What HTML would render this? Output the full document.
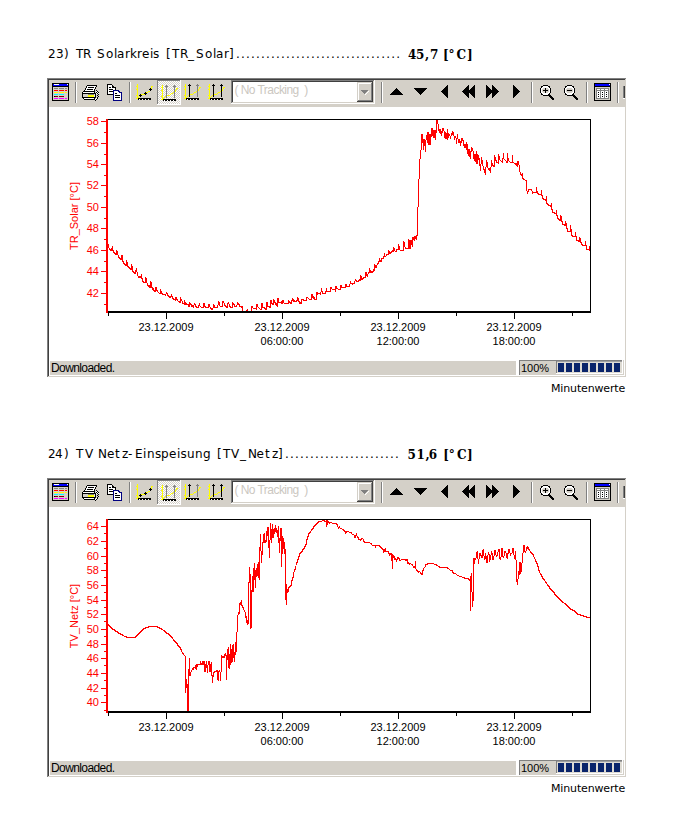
<!DOCTYPE html>
<html><head><meta charset="utf-8"><title>Minutenwerte</title><style>
*{margin:0;padding:0;box-sizing:content-box}
html,body{width:685px;height:835px;background:#fff;overflow:hidden;position:relative}
.blk{position:absolute;left:0;width:685px;height:400px}
.tg{position:absolute;top:47px;font:12px "DejaVu Sans","Liberation Sans",sans-serif;white-space:pre;color:#000;line-height:14px}
.vg{position:absolute;top:47.5px;font:bold 12px "DejaVu Serif","Liberation Serif",serif;white-space:pre;color:#000;line-height:14px}
.dots{position:absolute;top:47px;font:12px "DejaVu Sans","Liberation Sans",sans-serif;letter-spacing:1.19px;white-space:pre;line-height:14px}
.frame{position:absolute;left:49px;top:80px;width:576px;height:296px;}
.fl{position:absolute;left:47px;top:78px}
.tbwrap{position:absolute;left:0;top:0;width:577px;height:27px;background:#d4d0c8}
.tb{position:absolute;left:0;top:0}
.cbt{position:absolute;left:185.5px;top:2.5px;font:12px "Liberation Sans",sans-serif;letter-spacing:-0.55px;color:#cbc7bf;line-height:14px;white-space:nowrap}
.plot{position:absolute;left:0;top:27px;width:576px;height:253px;background:#fff;overflow:hidden}
.ch{position:absolute;left:-49px;top:-7px}
.yl span{position:absolute;left:20px;font:11px "Liberation Sans",sans-serif;color:#f00;line-height:14px;width:30px;text-align:right}
.yt{position:absolute;font:11px "Liberation Sans",sans-serif;color:#f00;white-space:nowrap;line-height:12px;width:100px;text-align:center;left:-25px;top:103px;transform:rotate(-90deg)}
.xl{position:absolute;top:213px;width:80px;text-align:center;font:11px "Liberation Sans",sans-serif;color:#000;line-height:14px}
.sb{position:absolute;left:0;top:280px}
.sb1{position:absolute;left:1px;top:281px;width:466px;height:14px;font:12px "Liberation Sans",sans-serif;letter-spacing:-0.6px;line-height:14px;text-indent:1px;color:#000}
.sb2{position:absolute;left:470px;top:281px;width:36px;height:14px;font:11px "Liberation Sans",sans-serif;line-height:14px;text-indent:2px}
.sb3{position:absolute;left:507px;top:280px;width:66px;height:13px;border-style:solid;border-width:1px 1px 1px 1px;border-color:#808080 #fff #fff #808080;background:#d4d0c8;}
.sb3 i{float:left;width:6px;height:9px;background:#0a246a;margin:2px 2px 0 0}
.sb3 i:first-child{margin-left:1px}
.mw{position:absolute;left:551px;top:382px;font:11px "DejaVu Sans","Liberation Sans",sans-serif;line-height:14px;letter-spacing:-0.15px}
</style></head>
<body>

<div class="blk" style="top:0px">
  <div class="tg" style="left:48px"><span style="margin-right:0.36px">2</span><span style="margin-right:0.36px">3</span><span style="margin-right:3.48px">)</span> <span style="margin-right:-0.34px">T</span><span style="margin-right:1.83px">R</span> <span style="margin-right:1.38px">S</span><span style="margin-right:0.66px">o</span><span style="margin-right:-0.34px">l</span><span style="margin-right:0.64px">a</span><span style="margin-right:0.06px">r</span><span style="margin-right:0.05px">k</span><span style="margin-right:0.06px">r</span><span style="margin-right:0.61px">e</span><span style="margin-right:-0.34px">i</span><span style="margin-right:2.91px">s</span> <span style="margin-right:1.31px">[</span><span style="margin-right:0.66px">T</span><span style="margin-right:-0.34px">R</span><span style="margin-right:2.00px">_</span><span style="margin-right:1.38px">S</span><span style="margin-right:0.66px">o</span><span style="margin-right:-0.34px">l</span><span style="margin-right:0.64px">a</span><span style="margin-right:0.06px">r</span>]</div><div class="dots" style="left:236px">................................. </div><div class="vg" style="left:408px"><span style="margin-right:-0.36px">4</span><span style="margin-right:0.64px">5</span><span style="margin-right:0.81px">,</span><span style="margin-right:0.45px">7</span> <span style="margin-right:-0.19px">[</span><span style="margin-right:2.00px">°</span><span style="margin-right:0.94px">C</span>]</div>
  <svg class="fl" width="580" height="300" viewBox="0 0 580 300" shape-rendering="crispEdges"><rect x="0" y="0" width="579" height="1" fill="#808080"/><rect x="0" y="0" width="1" height="299" fill="#808080"/><rect x="579" y="0" width="1" height="300" fill="#fff"/><rect x="0" y="299" width="580" height="1" fill="#fff"/><rect x="1" y="1" width="577" height="1" fill="#404040"/><rect x="1" y="1" width="1" height="297" fill="#404040"/><rect x="578" y="1" width="1" height="298" fill="#d4d0c8"/><rect x="1" y="298" width="578" height="1" fill="#d4d0c8"/></svg>
  <div class="frame">
    <div class="tbwrap"><svg class="tb" width="577" height="27" viewBox="0 0 577 27" shape-rendering="crispEdges"><defs><pattern id="chk1" width="2" height="2" patternUnits="userSpaceOnUse"><rect width="2" height="2" fill="#d4d0c8"/><rect width="1" height="1" fill="#fff"/><rect x="1" y="1" width="1" height="1" fill="#fff"/></pattern></defs><rect x="26" y="2" width="1" height="21" fill="#808080"/><rect x="27" y="2" width="1" height="21" fill="#fff"/><rect x="80" y="2" width="1" height="21" fill="#808080"/><rect x="81" y="2" width="1" height="21" fill="#fff"/><rect x="332" y="2" width="1" height="21" fill="#808080"/><rect x="333" y="2" width="1" height="21" fill="#fff"/><rect x="482" y="2" width="1" height="21" fill="#808080"/><rect x="483" y="2" width="1" height="21" fill="#fff"/><rect x="537" y="2" width="1" height="21" fill="#808080"/><rect x="538" y="2" width="1" height="21" fill="#fff"/><rect x="568" y="2" width="1" height="21" fill="#808080"/><rect x="569" y="2" width="1" height="21" fill="#fff"/><rect x="3" y="3" width="17" height="18" fill="#000"/><rect x="4" y="4" width="15" height="2" fill="#0000ff"/><rect x="5" y="4" width="5" height="1" fill="#fff"/><rect x="18" y="4" width="1" height="1" fill="#fff"/><rect x="4" y="7" width="15" height="13" fill="#d4d0c8"/><rect x="5" y="8" width="4" height="1" fill="#808080"/><rect x="10" y="8" width="5" height="1" fill="#808080"/><rect x="16" y="8" width="2" height="1" fill="#808080"/><rect x="5" y="10" width="4" height="1" fill="#ff0000"/><rect x="10" y="10" width="5" height="1" fill="#ff0000"/><rect x="16" y="10" width="2" height="1" fill="#ff0000"/><rect x="5" y="12" width="4" height="1" fill="#ffff00"/><rect x="10" y="12" width="5" height="1" fill="#ffff00"/><rect x="16" y="12" width="2" height="1" fill="#ffff00"/><rect x="5" y="14" width="4" height="1" fill="#00ffff"/><rect x="10" y="14" width="5" height="1" fill="#00ffff"/><rect x="5" y="16" width="4" height="1" fill="#800000"/><rect x="10" y="16" width="5" height="1" fill="#800000"/><rect x="5" y="18" width="4" height="1" fill="#ff00ff"/><rect x="10" y="18" width="5" height="1" fill="#ff00ff"/><rect x="16" y="18" width="2" height="1" fill="#ff00ff"/><rect x="5" y="16" width="1" height="1" fill="#000"/><rect x="38" y="6" width="9" height="1" fill="#fff"/><rect x="37" y="7" width="9" height="1" fill="#fff"/><rect x="37" y="8" width="9" height="1" fill="#fff"/><rect x="36" y="9" width="9" height="1" fill="#fff"/><rect x="36" y="10" width="9" height="1" fill="#fff"/><rect x="38" y="5" width="10" height="1" fill="#000"/><rect x="37" y="6" width="1" height="2" fill="#000"/><rect x="47" y="6" width="1" height="1" fill="#000"/><rect x="46" y="7" width="1" height="2" fill="#000"/><rect x="36" y="8" width="1" height="2" fill="#000"/><rect x="35" y="10" width="1" height="1" fill="#000"/><rect x="45" y="9" width="1" height="2" fill="#000"/><rect x="39" y="7" width="6" height="1" fill="#000"/><rect x="38" y="9" width="6" height="1" fill="#000"/><rect x="34" y="11" width="12" height="1" fill="#000"/><rect x="33" y="12" width="1" height="5" fill="#000"/><rect x="34" y="12" width="11" height="1" fill="#fff"/><rect x="45" y="12" width="1" height="1" fill="#000"/><rect x="33" y="13" width="14" height="1" fill="#000"/><rect x="34" y="14" width="5" height="3" fill="#d4d0c8"/><rect x="39" y="14" width="6" height="1" fill="#808080"/><rect x="39" y="15" width="6" height="2" fill="#ffff00"/><rect x="45" y="14" width="1" height="3" fill="#e8e6e0"/><rect x="46" y="14" width="1" height="3" fill="#000"/><rect x="33" y="17" width="14" height="1" fill="#000"/><rect x="34" y="18" width="1" height="1" fill="#000"/><rect x="35" y="18" width="10" height="1" fill="#fff"/><rect x="45" y="18" width="1" height="1" fill="#000"/><rect x="35" y="19" width="11" height="1" fill="#000"/><rect x="47" y="10" width="1" height="1" fill="#000"/><rect x="48" y="11" width="1" height="1" fill="#000"/><rect x="47" y="11" width="1" height="1" fill="#fff"/><rect x="47" y="12" width="1" height="1" fill="#000"/><rect x="48" y="12" width="1" height="1" fill="#fff"/><rect x="49" y="12" width="1" height="1" fill="#000"/><rect x="48" y="13" width="1" height="1" fill="#000"/><rect x="47" y="13" width="1" height="1" fill="#fff"/><rect x="49" y="14" width="1" height="1" fill="#000"/><rect x="48" y="15" width="1" height="1" fill="#000"/><rect x="49" y="16" width="1" height="1" fill="#000"/><rect x="48" y="17" width="1" height="1" fill="#000"/><rect x="47" y="18" width="1" height="1" fill="#fff"/><rect x="48" y="18" width="1" height="1" fill="#000"/><rect x="47" y="19" width="1" height="1" fill="#000"/><rect x="46" y="20" width="1" height="1" fill="#000"/><rect x="46" y="19" width="1" height="1" fill="#fff"/><rect x="49" y="13" width="1" height="1" fill="#fff"/><rect x="59" y="5" width="4" height="9" fill="#fff"/><rect x="63" y="6" width="2" height="8" fill="#fff"/><rect x="65" y="8" width="1" height="6" fill="#fff"/><rect x="58" y="4" width="5" height="1" fill="#000"/><rect x="58" y="4" width="1" height="11" fill="#000"/><rect x="58" y="14" width="6" height="1" fill="#000"/><rect x="63" y="5" width="1" height="1" fill="#000"/><rect x="64" y="6" width="1" height="1" fill="#000"/><rect x="65" y="7" width="1" height="1" fill="#000"/><rect x="66" y="7" width="1" height="3" fill="#000"/><rect x="63" y="6" width="1" height="2" fill="#000"/><rect x="64" y="7" width="1" height="1" fill="#000"/><rect x="60" y="7" width="2" height="1" fill="#000"/><rect x="60" y="9" width="4" height="1" fill="#000"/><rect x="60" y="11" width="4" height="1" fill="#000"/><rect x="65" y="11" width="6" height="9" fill="#fff"/><rect x="70" y="12" width="2" height="8" fill="#fff"/><rect x="64" y="10" width="6" height="1" fill="#000080"/><rect x="64" y="10" width="1" height="11" fill="#000080"/><rect x="64" y="20" width="9" height="1" fill="#000080"/><rect x="72" y="12" width="1" height="9" fill="#000080"/><rect x="70" y="11" width="1" height="1" fill="#000080"/><rect x="71" y="12" width="1" height="1" fill="#000080"/><rect x="70" y="12" width="1" height="1" fill="#000080"/><rect x="69" y="10" width="1" height="2" fill="#000080"/><rect x="66" y="13" width="2" height="1" fill="#000"/><rect x="66" y="15" width="5" height="1" fill="#000"/><rect x="66" y="17" width="5" height="1" fill="#000"/><rect x="88" y="4" width="1" height="15" fill="#ffff00"/><rect x="87" y="6" width="1" height="1" fill="#ffff00"/><rect x="87" y="9" width="1" height="1" fill="#ffff00"/><rect x="87" y="15" width="1" height="1" fill="#ffff00"/><rect x="87" y="18" width="1" height="1" fill="#ffff00"/><rect x="89" y="18" width="13" height="1" fill="#000"/><rect x="89" y="19" width="1" height="1" fill="#000"/><rect x="90" y="19" width="1" height="1" fill="#fff"/><rect x="91" y="19" width="1" height="1" fill="#000"/><rect x="92" y="19" width="1" height="1" fill="#000"/><rect x="93" y="19" width="1" height="1" fill="#fff"/><rect x="94" y="19" width="1" height="1" fill="#000"/><rect x="95" y="19" width="1" height="1" fill="#000"/><rect x="96" y="19" width="1" height="1" fill="#fff"/><rect x="97" y="19" width="1" height="1" fill="#000"/><rect x="98" y="19" width="1" height="1" fill="#000"/><rect x="99" y="19" width="1" height="1" fill="#fff"/><rect x="100" y="19" width="1" height="1" fill="#000"/><rect x="101" y="19" width="1" height="1" fill="#000"/><rect x="89" y="17" width="1" height="1" fill="#ffff00"/><rect x="90" y="16" width="1" height="1" fill="#ffff00"/><rect x="92" y="14" width="1" height="1" fill="#ffff00"/><rect x="93" y="14" width="1" height="1" fill="#ffff00"/><rect x="94" y="14" width="1" height="1" fill="#ffff00"/><rect x="95" y="14" width="1" height="1" fill="#ffff00"/><rect x="97" y="12" width="1" height="1" fill="#ffff00"/><rect x="98" y="12" width="1" height="1" fill="#ffff00"/><rect x="99" y="11" width="1" height="1" fill="#ffff00"/><rect x="100" y="11" width="1" height="1" fill="#ffff00"/><rect x="102" y="8" width="1" height="1" fill="#ffff00"/><rect x="102" y="7" width="1" height="1" fill="#ffff00"/><rect x="102" y="6" width="1" height="1" fill="#ffff00"/><rect x="103" y="6" width="1" height="1" fill="#ffff00"/><rect x="91" y="14" width="1" height="1" fill="#000"/><rect x="90" y="15" width="1" height="1" fill="#000"/><rect x="91" y="15" width="1" height="1" fill="#000"/><rect x="92" y="15" width="1" height="1" fill="#000"/><rect x="91" y="16" width="1" height="1" fill="#000"/><rect x="96" y="12" width="1" height="1" fill="#000"/><rect x="95" y="13" width="1" height="1" fill="#000"/><rect x="96" y="13" width="1" height="1" fill="#000"/><rect x="97" y="13" width="1" height="1" fill="#000"/><rect x="96" y="14" width="1" height="1" fill="#000"/><rect x="101" y="8" width="1" height="1" fill="#000"/><rect x="100" y="9" width="1" height="1" fill="#000"/><rect x="101" y="9" width="1" height="1" fill="#000"/><rect x="102" y="9" width="1" height="1" fill="#000"/><rect x="101" y="10" width="1" height="1" fill="#000"/><rect x="108" y="0" width="23" height="1" fill="#808080"/><rect x="108" y="0" width="1" height="24" fill="#808080"/><rect x="108" y="24" width="24" height="1" fill="#fff"/><rect x="131" y="0" width="1" height="25" fill="#fff"/><rect x="109" y="1" width="22" height="23" fill="url(#chk1)"/><rect x="113" y="5" width="1" height="15" fill="#ffff00"/><rect x="112" y="7" width="1" height="1" fill="#ffff00"/><rect x="112" y="10" width="1" height="1" fill="#ffff00"/><rect x="112" y="16" width="1" height="1" fill="#ffff00"/><rect x="112" y="19" width="1" height="1" fill="#ffff00"/><rect x="114" y="19" width="13" height="1" fill="#000"/><rect x="114" y="20" width="1" height="1" fill="#000"/><rect x="115" y="20" width="1" height="1" fill="#fff"/><rect x="116" y="20" width="1" height="1" fill="#000"/><rect x="117" y="20" width="1" height="1" fill="#000"/><rect x="118" y="20" width="1" height="1" fill="#fff"/><rect x="119" y="20" width="1" height="1" fill="#000"/><rect x="120" y="20" width="1" height="1" fill="#000"/><rect x="121" y="20" width="1" height="1" fill="#fff"/><rect x="122" y="20" width="1" height="1" fill="#000"/><rect x="123" y="20" width="1" height="1" fill="#000"/><rect x="124" y="20" width="1" height="1" fill="#fff"/><rect x="125" y="20" width="1" height="1" fill="#000"/><rect x="126" y="20" width="1" height="1" fill="#000"/><rect x="117" y="5" width="1" height="1" fill="#808080"/><rect x="116" y="6" width="3" height="1" fill="#808080"/><rect x="117" y="7" width="1" height="11" fill="#808080"/><rect x="125" y="5" width="1" height="1" fill="#808080"/><rect x="124" y="6" width="3" height="1" fill="#808080"/><rect x="125" y="7" width="1" height="11" fill="#808080"/><rect x="114" y="18" width="1" height="1" fill="#ffff00"/><rect x="115" y="17" width="1" height="1" fill="#ffff00"/><rect x="116" y="16" width="1" height="1" fill="#ffff00"/><rect x="118" y="15" width="1" height="1" fill="#ffff00"/><rect x="119" y="15" width="1" height="1" fill="#ffff00"/><rect x="120" y="15" width="1" height="1" fill="#ffff00"/><rect x="121" y="14" width="1" height="1" fill="#ffff00"/><rect x="122" y="13" width="1" height="1" fill="#ffff00"/><rect x="123" y="13" width="1" height="1" fill="#ffff00"/><rect x="124" y="12" width="1" height="1" fill="#ffff00"/><rect x="126" y="11" width="1" height="1" fill="#ffff00"/><rect x="126" y="10" width="1" height="1" fill="#ffff00"/><rect x="127" y="9" width="1" height="1" fill="#ffff00"/><rect x="127" y="8" width="1" height="1" fill="#ffff00"/><rect x="128" y="8" width="1" height="1" fill="#ffff00"/><rect x="136" y="4" width="1" height="15" fill="#ffff00"/><rect x="135" y="6" width="1" height="1" fill="#ffff00"/><rect x="135" y="9" width="1" height="1" fill="#ffff00"/><rect x="135" y="15" width="1" height="1" fill="#ffff00"/><rect x="135" y="18" width="1" height="1" fill="#ffff00"/><rect x="137" y="18" width="13" height="1" fill="#000"/><rect x="137" y="19" width="1" height="1" fill="#000"/><rect x="138" y="19" width="1" height="1" fill="#fff"/><rect x="139" y="19" width="1" height="1" fill="#000"/><rect x="140" y="19" width="1" height="1" fill="#000"/><rect x="141" y="19" width="1" height="1" fill="#fff"/><rect x="142" y="19" width="1" height="1" fill="#000"/><rect x="143" y="19" width="1" height="1" fill="#000"/><rect x="144" y="19" width="1" height="1" fill="#fff"/><rect x="145" y="19" width="1" height="1" fill="#000"/><rect x="146" y="19" width="1" height="1" fill="#000"/><rect x="147" y="19" width="1" height="1" fill="#fff"/><rect x="148" y="19" width="1" height="1" fill="#000"/><rect x="149" y="19" width="1" height="1" fill="#000"/><rect x="140" y="4" width="1" height="1" fill="#000"/><rect x="139" y="5" width="3" height="1" fill="#000"/><rect x="140" y="6" width="1" height="11" fill="#000"/><rect x="148" y="4" width="1" height="1" fill="#808080"/><rect x="147" y="5" width="3" height="1" fill="#808080"/><rect x="148" y="6" width="1" height="11" fill="#808080"/><rect x="137" y="17" width="1" height="1" fill="#ffff00"/><rect x="138" y="16" width="1" height="1" fill="#ffff00"/><rect x="139" y="15" width="1" height="1" fill="#ffff00"/><rect x="141" y="14" width="1" height="1" fill="#ffff00"/><rect x="142" y="14" width="1" height="1" fill="#ffff00"/><rect x="143" y="14" width="1" height="1" fill="#ffff00"/><rect x="144" y="13" width="1" height="1" fill="#ffff00"/><rect x="145" y="12" width="1" height="1" fill="#ffff00"/><rect x="146" y="12" width="1" height="1" fill="#ffff00"/><rect x="147" y="11" width="1" height="1" fill="#ffff00"/><rect x="149" y="10" width="1" height="1" fill="#ffff00"/><rect x="149" y="9" width="1" height="1" fill="#ffff00"/><rect x="150" y="8" width="1" height="1" fill="#ffff00"/><rect x="150" y="7" width="1" height="1" fill="#ffff00"/><rect x="151" y="7" width="1" height="1" fill="#ffff00"/><rect x="160" y="4" width="1" height="15" fill="#ffff00"/><rect x="159" y="6" width="1" height="1" fill="#ffff00"/><rect x="159" y="9" width="1" height="1" fill="#ffff00"/><rect x="159" y="15" width="1" height="1" fill="#ffff00"/><rect x="159" y="18" width="1" height="1" fill="#ffff00"/><rect x="161" y="18" width="13" height="1" fill="#000"/><rect x="161" y="19" width="1" height="1" fill="#000"/><rect x="162" y="19" width="1" height="1" fill="#fff"/><rect x="163" y="19" width="1" height="1" fill="#000"/><rect x="164" y="19" width="1" height="1" fill="#000"/><rect x="165" y="19" width="1" height="1" fill="#fff"/><rect x="166" y="19" width="1" height="1" fill="#000"/><rect x="167" y="19" width="1" height="1" fill="#000"/><rect x="168" y="19" width="1" height="1" fill="#fff"/><rect x="169" y="19" width="1" height="1" fill="#000"/><rect x="170" y="19" width="1" height="1" fill="#000"/><rect x="171" y="19" width="1" height="1" fill="#fff"/><rect x="172" y="19" width="1" height="1" fill="#000"/><rect x="173" y="19" width="1" height="1" fill="#000"/><rect x="164" y="4" width="1" height="1" fill="#000"/><rect x="163" y="5" width="3" height="1" fill="#000"/><rect x="164" y="6" width="1" height="11" fill="#000"/><rect x="172" y="4" width="1" height="1" fill="#000"/><rect x="171" y="5" width="3" height="1" fill="#000"/><rect x="172" y="6" width="1" height="11" fill="#000"/><rect x="161" y="17" width="1" height="1" fill="#ffff00"/><rect x="162" y="16" width="1" height="1" fill="#ffff00"/><rect x="163" y="15" width="1" height="1" fill="#ffff00"/><rect x="165" y="14" width="1" height="1" fill="#ffff00"/><rect x="166" y="14" width="1" height="1" fill="#ffff00"/><rect x="167" y="14" width="1" height="1" fill="#ffff00"/><rect x="168" y="13" width="1" height="1" fill="#ffff00"/><rect x="169" y="12" width="1" height="1" fill="#ffff00"/><rect x="170" y="12" width="1" height="1" fill="#ffff00"/><rect x="171" y="11" width="1" height="1" fill="#ffff00"/><rect x="173" y="10" width="1" height="1" fill="#ffff00"/><rect x="173" y="9" width="1" height="1" fill="#ffff00"/><rect x="174" y="8" width="1" height="1" fill="#ffff00"/><rect x="174" y="7" width="1" height="1" fill="#ffff00"/><rect x="175" y="7" width="1" height="1" fill="#ffff00"/><rect x="182" y="0" width="143" height="1" fill="#808080"/><rect x="182" y="0" width="1" height="24" fill="#808080"/><rect x="183" y="1" width="141" height="1" fill="#404040"/><rect x="183" y="1" width="1" height="22" fill="#404040"/><rect x="182" y="23" width="144" height="1" fill="#fff"/><rect x="325" y="0" width="1" height="24" fill="#fff"/><rect x="183" y="22" width="142" height="1" fill="#d4d0c8"/><rect x="324" y="1" width="1" height="22" fill="#d4d0c8"/><rect x="184" y="2" width="140" height="20" fill="#fff"/><rect x="308" y="2" width="16" height="20" fill="#d4d0c8"/><rect x="308" y="2" width="15" height="1" fill="#d4d0c8"/><rect x="309" y="3" width="13" height="1" fill="#fff"/><rect x="309" y="3" width="1" height="17" fill="#fff"/><rect x="323" y="2" width="1" height="20" fill="#404040"/><rect x="308" y="21" width="16" height="1" fill="#404040"/><rect x="322" y="3" width="1" height="18" fill="#808080"/><rect x="309" y="20" width="14" height="1" fill="#808080"/><rect x="312" y="10" width="7" height="1" fill="#808080"/><rect x="313" y="11" width="5" height="1" fill="#808080"/><rect x="314" y="12" width="3" height="1" fill="#808080"/><rect x="315" y="13" width="1" height="1" fill="#808080"/><rect x="316" y="14" width="1" height="1" fill="#fff"/><rect x="317" y="13" width="1" height="1" fill="#fff"/><rect x="318" y="12" width="1" height="1" fill="#fff"/><rect x="319" y="11" width="1" height="1" fill="#fff"/><rect x="347" y="8" width="1" height="1" fill="#000"/><rect x="346" y="9" width="3" height="1" fill="#000"/><rect x="345" y="10" width="5" height="1" fill="#000"/><rect x="344" y="11" width="7" height="1" fill="#000"/><rect x="343" y="12" width="9" height="1" fill="#000"/><rect x="342" y="13" width="11" height="1" fill="#000"/><rect x="341" y="14" width="13" height="1" fill="#000"/><rect x="365" y="8" width="13" height="1" fill="#000"/><rect x="366" y="9" width="11" height="1" fill="#000"/><rect x="367" y="10" width="9" height="1" fill="#000"/><rect x="368" y="11" width="7" height="1" fill="#000"/><rect x="369" y="12" width="5" height="1" fill="#000"/><rect x="370" y="13" width="3" height="1" fill="#000"/><rect x="371" y="14" width="1" height="1" fill="#000"/><rect x="392" y="11" width="1" height="1" fill="#000"/><rect x="393" y="10" width="1" height="3" fill="#000"/><rect x="394" y="9" width="1" height="5" fill="#000"/><rect x="395" y="8" width="1" height="7" fill="#000"/><rect x="396" y="7" width="1" height="9" fill="#000"/><rect x="397" y="6" width="1" height="11" fill="#000"/><rect x="398" y="5" width="1" height="13" fill="#000"/><rect x="413" y="11" width="1" height="1" fill="#000"/><rect x="414" y="10" width="1" height="3" fill="#000"/><rect x="415" y="9" width="1" height="5" fill="#000"/><rect x="416" y="8" width="1" height="7" fill="#000"/><rect x="417" y="7" width="1" height="9" fill="#000"/><rect x="418" y="6" width="1" height="11" fill="#000"/><rect x="419" y="5" width="1" height="13" fill="#000"/><rect x="419" y="11" width="1" height="1" fill="#000"/><rect x="420" y="10" width="1" height="3" fill="#000"/><rect x="421" y="9" width="1" height="5" fill="#000"/><rect x="422" y="8" width="1" height="7" fill="#000"/><rect x="423" y="7" width="1" height="9" fill="#000"/><rect x="424" y="6" width="1" height="11" fill="#000"/><rect x="425" y="5" width="1" height="13" fill="#000"/><rect x="443" y="11" width="1" height="1" fill="#000"/><rect x="442" y="10" width="1" height="3" fill="#000"/><rect x="441" y="9" width="1" height="5" fill="#000"/><rect x="440" y="8" width="1" height="7" fill="#000"/><rect x="439" y="7" width="1" height="9" fill="#000"/><rect x="438" y="6" width="1" height="11" fill="#000"/><rect x="437" y="5" width="1" height="13" fill="#000"/><rect x="449" y="11" width="1" height="1" fill="#000"/><rect x="448" y="10" width="1" height="3" fill="#000"/><rect x="447" y="9" width="1" height="5" fill="#000"/><rect x="446" y="8" width="1" height="7" fill="#000"/><rect x="445" y="7" width="1" height="9" fill="#000"/><rect x="444" y="6" width="1" height="11" fill="#000"/><rect x="443" y="5" width="1" height="13" fill="#000"/><rect x="470" y="11" width="1" height="1" fill="#000"/><rect x="469" y="10" width="1" height="3" fill="#000"/><rect x="468" y="9" width="1" height="5" fill="#000"/><rect x="467" y="8" width="1" height="7" fill="#000"/><rect x="466" y="7" width="1" height="9" fill="#000"/><rect x="465" y="6" width="1" height="11" fill="#000"/><rect x="464" y="5" width="1" height="13" fill="#000"/><rect x="492" y="6" width="9" height="9" fill="#fff"/><rect x="491" y="8" width="11" height="5" fill="#fff"/><rect x="494" y="8" width="5" height="5" fill="#d4d0c8"/><rect x="493" y="9" width="7" height="3" fill="#d4d0c8"/><rect x="494" y="5" width="5" height="1" fill="#000"/><rect x="492" y="6" width="2" height="1" fill="#000"/><rect x="499" y="6" width="2" height="1" fill="#000"/><rect x="494" y="15" width="5" height="1" fill="#000"/><rect x="492" y="14" width="2" height="1" fill="#000"/><rect x="499" y="14" width="2" height="1" fill="#000"/><rect x="492" y="7" width="1" height="1" fill="#000"/><rect x="500" y="7" width="1" height="1" fill="#000"/><rect x="492" y="13" width="1" height="1" fill="#000"/><rect x="500" y="13" width="1" height="1" fill="#000"/><rect x="491" y="8" width="1" height="5" fill="#000"/><rect x="501" y="8" width="1" height="5" fill="#000"/><rect x="494" y="10" width="5" height="1" fill="#000"/><rect x="496" y="8" width="1" height="5" fill="#000"/><rect x="499" y="15" width="3" height="1" fill="#000"/><rect x="500" y="16" width="3" height="1" fill="#000"/><rect x="501" y="17" width="3" height="1" fill="#000"/><rect x="502" y="18" width="3" height="1" fill="#000"/><rect x="503" y="19" width="2" height="1" fill="#000"/><rect x="500" y="14" width="1" height="1" fill="#000"/><rect x="516" y="6" width="9" height="9" fill="#fff"/><rect x="515" y="8" width="11" height="5" fill="#fff"/><rect x="518" y="8" width="5" height="5" fill="#d4d0c8"/><rect x="517" y="9" width="7" height="3" fill="#d4d0c8"/><rect x="518" y="5" width="5" height="1" fill="#000"/><rect x="516" y="6" width="2" height="1" fill="#000"/><rect x="523" y="6" width="2" height="1" fill="#000"/><rect x="518" y="15" width="5" height="1" fill="#000"/><rect x="516" y="14" width="2" height="1" fill="#000"/><rect x="523" y="14" width="2" height="1" fill="#000"/><rect x="516" y="7" width="1" height="1" fill="#000"/><rect x="524" y="7" width="1" height="1" fill="#000"/><rect x="516" y="13" width="1" height="1" fill="#000"/><rect x="524" y="13" width="1" height="1" fill="#000"/><rect x="515" y="8" width="1" height="5" fill="#000"/><rect x="525" y="8" width="1" height="5" fill="#000"/><rect x="518" y="10" width="5" height="1" fill="#000"/><rect x="523" y="15" width="3" height="1" fill="#000"/><rect x="524" y="16" width="3" height="1" fill="#000"/><rect x="525" y="17" width="3" height="1" fill="#000"/><rect x="526" y="18" width="3" height="1" fill="#000"/><rect x="527" y="19" width="2" height="1" fill="#000"/><rect x="524" y="14" width="1" height="1" fill="#000"/><rect x="545" y="3" width="17" height="18" fill="#000"/><rect x="546" y="4" width="15" height="2" fill="#0000ff"/><rect x="560" y="4" width="1" height="1" fill="#fff"/><rect x="546" y="7" width="15" height="13" fill="#d4d0c8"/><rect x="546" y="7" width="14" height="1" fill="#f0eee8"/><rect x="546" y="7" width="1" height="12" fill="#f0eee8"/><rect x="546" y="7" width="15" height="13" fill="#d4d0c8"/><rect x="547" y="8" width="13" height="11" fill="#808080"/><rect x="548" y="9" width="3" height="1" fill="#fff"/><rect x="548" y="11" width="3" height="7" fill="#fff"/><rect x="549" y="12" width="1" height="1" fill="#000"/><rect x="549" y="14" width="1" height="1" fill="#000"/><rect x="549" y="16" width="1" height="1" fill="#000"/><rect x="552" y="9" width="3" height="1" fill="#fff"/><rect x="552" y="11" width="3" height="7" fill="#fff"/><rect x="553" y="12" width="1" height="1" fill="#000"/><rect x="553" y="14" width="1" height="1" fill="#000"/><rect x="553" y="16" width="1" height="1" fill="#000"/><rect x="556" y="9" width="3" height="1" fill="#fff"/><rect x="556" y="11" width="3" height="7" fill="#fff"/><rect x="557" y="12" width="1" height="1" fill="#000"/><rect x="557" y="14" width="1" height="1" fill="#000"/><rect x="557" y="16" width="1" height="1" fill="#000"/><rect x="574" y="6" width="1" height="12" fill="#808080"/><rect x="575" y="6" width="1" height="12" fill="#404040"/><rect x="574" y="18" width="2" height="1" fill="#fff"/></svg><div class="cbt">( No Tracking&nbsp; )</div></div>
    <div class="plot">
<svg class="ch" width="685" height="300" viewBox="0 100 685 300" shape-rendering="crispEdges">
<g fill="#f00">
<rect x="108" y="244" width="1" height="4"/>
<rect x="109" y="248" width="1" height="2"/>
<rect x="110" y="249" width="1" height="2"/>
<rect x="111" y="248" width="1" height="3"/>
<rect x="112" y="246" width="1" height="5"/>
<rect x="113" y="250" width="1" height="3"/>
<rect x="114" y="252" width="1" height="2"/>
<rect x="115" y="253" width="1" height="2"/>
<rect x="116" y="250" width="1" height="5"/>
<rect x="117" y="251" width="1" height="4"/>
<rect x="118" y="255" width="1" height="3"/>
<rect x="119" y="257" width="1" height="2"/>
<rect x="120" y="258" width="1" height="2"/>
<rect x="121" y="255" width="1" height="5"/>
<rect x="122" y="255" width="1" height="7"/>
<rect x="123" y="261" width="1" height="3"/>
<rect x="124" y="263" width="1" height="2"/>
<rect x="125" y="264" width="1" height="2"/>
<rect x="126" y="260" width="1" height="6"/>
<rect x="127" y="262" width="1" height="5"/>
<rect x="128" y="266" width="1" height="2"/>
<rect x="129" y="267" width="1" height="2"/>
<rect x="130" y="268" width="1" height="2"/>
<rect x="131" y="264" width="1" height="6"/>
<rect x="132" y="266" width="1" height="6"/>
<rect x="133" y="271" width="1" height="2"/>
<rect x="134" y="272" width="1" height="2"/>
<rect x="135" y="270" width="1" height="4"/>
<rect x="136" y="268" width="1" height="4"/>
<rect x="137" y="272" width="1" height="4"/>
<rect x="138" y="276" width="1" height="2"/>
<rect x="139" y="276" width="1" height="2"/>
<rect x="140" y="276" width="1" height="2"/>
<rect x="141" y="274" width="1" height="5"/>
<rect x="142" y="278" width="1" height="4"/>
<rect x="143" y="281" width="1" height="2"/>
<rect x="144" y="282" width="1" height="1"/>
<rect x="145" y="277" width="1" height="6"/>
<rect x="146" y="278" width="1" height="5"/>
<rect x="147" y="283" width="1" height="3"/>
<rect x="148" y="285" width="1" height="2"/>
<rect x="149" y="285" width="1" height="3"/>
<rect x="150" y="281" width="1" height="7"/>
<rect x="151" y="282" width="1" height="6"/>
<rect x="152" y="287" width="1" height="3"/>
<rect x="153" y="288" width="1" height="3"/>
<rect x="154" y="290" width="1" height="2"/>
<rect x="155" y="287" width="1" height="5"/>
<rect x="156" y="287" width="1" height="4"/>
<rect x="157" y="290" width="1" height="2"/>
<rect x="158" y="292" width="1" height="1"/>
<rect x="159" y="293" width="1" height="1"/>
<rect x="160" y="289" width="1" height="5"/>
<rect x="161" y="291" width="1" height="3"/>
<rect x="162" y="293" width="1" height="2"/>
<rect x="163" y="294" width="1" height="1"/>
<rect x="164" y="294" width="1" height="1"/>
<rect x="165" y="294" width="1" height="2"/>
<rect x="166" y="292" width="1" height="2"/>
<rect x="167" y="293" width="1" height="3"/>
<rect x="168" y="295" width="1" height="2"/>
<rect x="169" y="296" width="1" height="2"/>
<rect x="170" y="296" width="1" height="2"/>
<rect x="171" y="294" width="1" height="3"/>
<rect x="172" y="296" width="1" height="3"/>
<rect x="173" y="298" width="1" height="2"/>
<rect x="174" y="299" width="1" height="1"/>
<rect x="175" y="297" width="1" height="4"/>
<rect x="176" y="297" width="1" height="3"/>
<rect x="177" y="299" width="1" height="2"/>
<rect x="178" y="301" width="1" height="1"/>
<rect x="179" y="301" width="1" height="2"/>
<rect x="180" y="297" width="1" height="6"/>
<rect x="181" y="299" width="1" height="2"/>
<rect x="182" y="301" width="1" height="3"/>
<rect x="183" y="303" width="1" height="1"/>
<rect x="184" y="300" width="1" height="5"/>
<rect x="185" y="302" width="1" height="3"/>
<rect x="186" y="303" width="1" height="2"/>
<rect x="187" y="304" width="1" height="1"/>
<rect x="188" y="304" width="1" height="3"/>
<rect x="189" y="302" width="1" height="5"/>
<rect x="190" y="303" width="1" height="2"/>
<rect x="191" y="304" width="1" height="3"/>
<rect x="192" y="305" width="1" height="2"/>
<rect x="193" y="305" width="1" height="3"/>
<rect x="194" y="303" width="1" height="2"/>
<rect x="195" y="304" width="1" height="3"/>
<rect x="196" y="306" width="1" height="2"/>
<rect x="197" y="307" width="1" height="1"/>
<rect x="198" y="305" width="1" height="3"/>
<rect x="199" y="303" width="1" height="3"/>
<rect x="200" y="306" width="1" height="1"/>
<rect x="201" y="307" width="1" height="1"/>
<rect x="202" y="307" width="1" height="1"/>
<rect x="203" y="303" width="1" height="5"/>
<rect x="204" y="303" width="1" height="4"/>
<rect x="205" y="306" width="1" height="2"/>
<rect x="206" y="307" width="1" height="1"/>
<rect x="207" y="307" width="1" height="1"/>
<rect x="208" y="304" width="1" height="4"/>
<rect x="209" y="304" width="1" height="3"/>
<rect x="210" y="307" width="1" height="2"/>
<rect x="211" y="308" width="1" height="2"/>
<rect x="212" y="308" width="1" height="2"/>
<rect x="213" y="304" width="1" height="4"/>
<rect x="214" y="305" width="1" height="3"/>
<rect x="215" y="307" width="1" height="1"/>
<rect x="216" y="307" width="1" height="1"/>
<rect x="217" y="305" width="1" height="3"/>
<rect x="218" y="301" width="1" height="4"/>
<rect x="219" y="302" width="1" height="4"/>
<rect x="220" y="306" width="1" height="1"/>
<rect x="221" y="306" width="1" height="1"/>
<rect x="222" y="301" width="1" height="6"/>
<rect x="223" y="301" width="1" height="2"/>
<rect x="224" y="303" width="1" height="3"/>
<rect x="225" y="305" width="1" height="2"/>
<rect x="226" y="306" width="1" height="2"/>
<rect x="227" y="303" width="1" height="5"/>
<rect x="228" y="302" width="1" height="2"/>
<rect x="229" y="304" width="1" height="3"/>
<rect x="230" y="306" width="1" height="2"/>
<rect x="231" y="307" width="1" height="1"/>
<rect x="232" y="302" width="1" height="6"/>
<rect x="233" y="303" width="1" height="2"/>
<rect x="234" y="304" width="1" height="3"/>
<rect x="235" y="306" width="1" height="1"/>
<rect x="236" y="305" width="1" height="2"/>
<rect x="237" y="302" width="1" height="3"/>
<rect x="238" y="303" width="1" height="2"/>
<rect x="239" y="304" width="1" height="3"/>
<rect x="240" y="306" width="1" height="1"/>
<rect x="241" y="306" width="1" height="2"/>
<rect x="242" y="306" width="1" height="5"/>
<rect x="246" y="310" width="1" height="1"/>
<rect x="247" y="309" width="1" height="2"/>
<rect x="251" y="306" width="1" height="5"/>
<rect x="252" y="306" width="1" height="2"/>
<rect x="253" y="308" width="1" height="1"/>
<rect x="254" y="308" width="1" height="1"/>
<rect x="255" y="308" width="1" height="1"/>
<rect x="256" y="304" width="1" height="6"/>
<rect x="257" y="304" width="1" height="3"/>
<rect x="258" y="307" width="1" height="1"/>
<rect x="259" y="308" width="1" height="1"/>
<rect x="260" y="309" width="1" height="1"/>
<rect x="261" y="303" width="1" height="7"/>
<rect x="262" y="303" width="1" height="5"/>
<rect x="263" y="307" width="1" height="1"/>
<rect x="264" y="307" width="1" height="2"/>
<rect x="265" y="308" width="1" height="2"/>
<rect x="266" y="302" width="1" height="8"/>
<rect x="267" y="302" width="1" height="5"/>
<rect x="268" y="306" width="1" height="1"/>
<rect x="269" y="306" width="1" height="2"/>
<rect x="270" y="300" width="1" height="8"/>
<rect x="271" y="300" width="1" height="4"/>
<rect x="272" y="303" width="1" height="2"/>
<rect x="273" y="299" width="1" height="6"/>
<rect x="274" y="300" width="1" height="3"/>
<rect x="275" y="302" width="1" height="3"/>
<rect x="276" y="303" width="1" height="3"/>
<rect x="277" y="298" width="1" height="9"/>
<rect x="278" y="298" width="1" height="5"/>
<rect x="279" y="302" width="1" height="1"/>
<rect x="280" y="302" width="1" height="1"/>
<rect x="281" y="301" width="1" height="3"/>
<rect x="282" y="300" width="1" height="4"/>
<rect x="283" y="300" width="1" height="3"/>
<rect x="284" y="303" width="1" height="1"/>
<rect x="285" y="303" width="1" height="1"/>
<rect x="286" y="303" width="1" height="1"/>
<rect x="287" y="303" width="1" height="1"/>
<rect x="288" y="300" width="1" height="4"/>
<rect x="289" y="301" width="1" height="2"/>
<rect x="290" y="302" width="1" height="2"/>
<rect x="291" y="300" width="1" height="4"/>
<rect x="292" y="298" width="1" height="3"/>
<rect x="293" y="299" width="1" height="3"/>
<rect x="294" y="300" width="1" height="2"/>
<rect x="295" y="301" width="1" height="1"/>
<rect x="296" y="300" width="1" height="2"/>
<rect x="297" y="297" width="1" height="4"/>
<rect x="298" y="298" width="1" height="4"/>
<rect x="299" y="301" width="1" height="3"/>
<rect x="300" y="302" width="1" height="2"/>
<rect x="301" y="299" width="1" height="5"/>
<rect x="302" y="299" width="1" height="1"/>
<rect x="303" y="299" width="1" height="2"/>
<rect x="304" y="300" width="1" height="1"/>
<rect x="305" y="300" width="1" height="1"/>
<rect x="306" y="297" width="1" height="4"/>
<rect x="307" y="297" width="1" height="1"/>
<rect x="308" y="298" width="1" height="1"/>
<rect x="309" y="299" width="1" height="1"/>
<rect x="310" y="299" width="1" height="1"/>
<rect x="311" y="294" width="1" height="6"/>
<rect x="312" y="294" width="1" height="4"/>
<rect x="313" y="296" width="1" height="3"/>
<rect x="314" y="297" width="1" height="3"/>
<rect x="315" y="299" width="1" height="1"/>
<rect x="316" y="292" width="1" height="8"/>
<rect x="317" y="292" width="1" height="3"/>
<rect x="318" y="293" width="1" height="1"/>
<rect x="319" y="293" width="1" height="1"/>
<rect x="320" y="292" width="1" height="3"/>
<rect x="321" y="288" width="1" height="4"/>
<rect x="322" y="291" width="1" height="3"/>
<rect x="323" y="293" width="1" height="1"/>
<rect x="324" y="293" width="1" height="1"/>
<rect x="325" y="291" width="1" height="3"/>
<rect x="326" y="288" width="1" height="4"/>
<rect x="327" y="291" width="1" height="1"/>
<rect x="328" y="291" width="1" height="1"/>
<rect x="329" y="291" width="1" height="1"/>
<rect x="330" y="287" width="1" height="5"/>
<rect x="331" y="287" width="1" height="2"/>
<rect x="332" y="289" width="1" height="1"/>
<rect x="333" y="289" width="1" height="1"/>
<rect x="334" y="289" width="1" height="1"/>
<rect x="335" y="286" width="1" height="6"/>
<rect x="336" y="286" width="1" height="3"/>
<rect x="337" y="288" width="1" height="1"/>
<rect x="338" y="289" width="1" height="1"/>
<rect x="339" y="289" width="1" height="1"/>
<rect x="340" y="285" width="1" height="5"/>
<rect x="341" y="285" width="1" height="3"/>
<rect x="342" y="287" width="1" height="1"/>
<rect x="343" y="287" width="1" height="1"/>
<rect x="344" y="287" width="1" height="1"/>
<rect x="345" y="284" width="1" height="4"/>
<rect x="346" y="284" width="1" height="3"/>
<rect x="347" y="286" width="1" height="1"/>
<rect x="348" y="286" width="1" height="1"/>
<rect x="349" y="284" width="1" height="3"/>
<rect x="350" y="281" width="1" height="3"/>
<rect x="351" y="283" width="1" height="1"/>
<rect x="352" y="283" width="1" height="2"/>
<rect x="353" y="283" width="1" height="1"/>
<rect x="354" y="281" width="1" height="3"/>
<rect x="355" y="279" width="1" height="2"/>
<rect x="356" y="280" width="1" height="2"/>
<rect x="357" y="281" width="1" height="1"/>
<rect x="358" y="280" width="1" height="2"/>
<rect x="359" y="279" width="1" height="2"/>
<rect x="360" y="275" width="1" height="6"/>
<rect x="361" y="276" width="1" height="4"/>
<rect x="362" y="278" width="1" height="2"/>
<rect x="363" y="277" width="1" height="2"/>
<rect x="364" y="277" width="1" height="1"/>
<rect x="365" y="272" width="1" height="6"/>
<rect x="366" y="272" width="1" height="4"/>
<rect x="367" y="274" width="1" height="3"/>
<rect x="368" y="272" width="1" height="2"/>
<rect x="369" y="268" width="1" height="5"/>
<rect x="370" y="270" width="1" height="3"/>
<rect x="371" y="271" width="1" height="2"/>
<rect x="372" y="271" width="1" height="2"/>
<rect x="373" y="269" width="1" height="3"/>
<rect x="374" y="264" width="1" height="7"/>
<rect x="375" y="265" width="1" height="3"/>
<rect x="376" y="265" width="1" height="3"/>
<rect x="377" y="263" width="1" height="2"/>
<rect x="378" y="261" width="1" height="3"/>
<rect x="379" y="258" width="1" height="4"/>
<rect x="380" y="260" width="1" height="2"/>
<rect x="381" y="258" width="1" height="4"/>
<rect x="382" y="258" width="1" height="1"/>
<rect x="383" y="256" width="1" height="3"/>
<rect x="384" y="253" width="1" height="4"/>
<rect x="385" y="256" width="1" height="1"/>
<rect x="386" y="254" width="1" height="2"/>
<rect x="387" y="254" width="1" height="1"/>
<rect x="388" y="250" width="1" height="5"/>
<rect x="389" y="251" width="1" height="3"/>
<rect x="390" y="252" width="1" height="2"/>
<rect x="391" y="251" width="1" height="2"/>
<rect x="392" y="250" width="1" height="2"/>
<rect x="393" y="247" width="1" height="5"/>
<rect x="394" y="248" width="1" height="3"/>
<rect x="395" y="251" width="1" height="1"/>
<rect x="396" y="249" width="1" height="3"/>
<rect x="397" y="249" width="1" height="1"/>
<rect x="398" y="244" width="1" height="6"/>
<rect x="399" y="246" width="1" height="4"/>
<rect x="400" y="250" width="1" height="1"/>
<rect x="401" y="250" width="1" height="1"/>
<rect x="402" y="250" width="1" height="1"/>
<rect x="403" y="241" width="1" height="10"/>
<rect x="404" y="242" width="1" height="5"/>
<rect x="405" y="247" width="1" height="2"/>
<rect x="406" y="248" width="1" height="1"/>
<rect x="407" y="248" width="1" height="1"/>
<rect x="408" y="239" width="1" height="10"/>
<rect x="409" y="240" width="1" height="9"/>
<rect x="410" y="240" width="1" height="9"/>
<rect x="411" y="240" width="1" height="5"/>
<rect x="412" y="237" width="1" height="10"/>
<rect x="413" y="237" width="1" height="3"/>
<rect x="414" y="236" width="1" height="5"/>
<rect x="415" y="236" width="1" height="3"/>
<rect x="416" y="235" width="1" height="5"/>
<rect x="417" y="207" width="1" height="29"/>
<rect x="418" y="179" width="1" height="28"/>
<rect x="419" y="159" width="1" height="20"/>
<rect x="420" y="150" width="1" height="9"/>
<rect x="421" y="134" width="1" height="16"/>
<rect x="422" y="134" width="1" height="9"/>
<rect x="423" y="139" width="1" height="11"/>
<rect x="424" y="139" width="1" height="7"/>
<rect x="425" y="140" width="1" height="12"/>
<rect x="426" y="135" width="1" height="5"/>
<rect x="427" y="132" width="1" height="11"/>
<rect x="428" y="132" width="1" height="13"/>
<rect x="429" y="134" width="1" height="11"/>
<rect x="430" y="134" width="1" height="11"/>
<rect x="431" y="128" width="1" height="9"/>
<rect x="432" y="128" width="1" height="8"/>
<rect x="433" y="130" width="1" height="8"/>
<rect x="434" y="130" width="1" height="8"/>
<rect x="435" y="130" width="1" height="10"/>
<rect x="436" y="120" width="1" height="13"/>
<rect x="437" y="120" width="1" height="4"/>
<rect x="438" y="124" width="1" height="7"/>
<rect x="439" y="129" width="1" height="4"/>
<rect x="440" y="129" width="1" height="5"/>
<rect x="441" y="131" width="1" height="5"/>
<rect x="442" y="128" width="1" height="5"/>
<rect x="443" y="128" width="1" height="3"/>
<rect x="444" y="131" width="1" height="7"/>
<rect x="445" y="132" width="1" height="7"/>
<rect x="446" y="133" width="1" height="6"/>
<rect x="447" y="129" width="1" height="11"/>
<rect x="448" y="133" width="1" height="5"/>
<rect x="449" y="134" width="1" height="2"/>
<rect x="450" y="136" width="1" height="3"/>
<rect x="451" y="133" width="1" height="3"/>
<rect x="452" y="131" width="1" height="4"/>
<rect x="453" y="132" width="1" height="4"/>
<rect x="454" y="136" width="1" height="4"/>
<rect x="455" y="136" width="1" height="2"/>
<rect x="456" y="138" width="1" height="6"/>
<rect x="457" y="134" width="1" height="5"/>
<rect x="458" y="139" width="1" height="4"/>
<rect x="459" y="139" width="1" height="4"/>
<rect x="460" y="141" width="1" height="5"/>
<rect x="461" y="138" width="1" height="5"/>
<rect x="462" y="138" width="1" height="3"/>
<rect x="463" y="140" width="1" height="6"/>
<rect x="464" y="144" width="1" height="4"/>
<rect x="465" y="144" width="1" height="4"/>
<rect x="466" y="142" width="1" height="8"/>
<rect x="467" y="144" width="1" height="10"/>
<rect x="468" y="149" width="1" height="7"/>
<rect x="469" y="149" width="1" height="8"/>
<rect x="470" y="151" width="1" height="8"/>
<rect x="471" y="147" width="1" height="5"/>
<rect x="472" y="148" width="1" height="3"/>
<rect x="473" y="151" width="1" height="8"/>
<rect x="474" y="154" width="1" height="7"/>
<rect x="475" y="154" width="1" height="8"/>
<rect x="476" y="151" width="1" height="13"/>
<rect x="477" y="154" width="1" height="10"/>
<rect x="478" y="155" width="1" height="5"/>
<rect x="479" y="158" width="1" height="8"/>
<rect x="480" y="164" width="1" height="7"/>
<rect x="481" y="157" width="1" height="7"/>
<rect x="482" y="160" width="1" height="6"/>
<rect x="483" y="166" width="1" height="4"/>
<rect x="484" y="169" width="1" height="4"/>
<rect x="485" y="167" width="1" height="8"/>
<rect x="486" y="160" width="1" height="7"/>
<rect x="487" y="162" width="1" height="6"/>
<rect x="488" y="168" width="1" height="2"/>
<rect x="489" y="168" width="1" height="3"/>
<rect x="490" y="167" width="1" height="6"/>
<rect x="491" y="160" width="1" height="7"/>
<rect x="492" y="163" width="1" height="3"/>
<rect x="493" y="165" width="1" height="2"/>
<rect x="494" y="155" width="1" height="12"/>
<rect x="495" y="157" width="1" height="4"/>
<rect x="496" y="160" width="1" height="3"/>
<rect x="497" y="162" width="1" height="1"/>
<rect x="498" y="154" width="1" height="10"/>
<rect x="499" y="156" width="1" height="4"/>
<rect x="500" y="160" width="1" height="1"/>
<rect x="501" y="161" width="1" height="1"/>
<rect x="502" y="158" width="1" height="5"/>
<rect x="503" y="153" width="1" height="6"/>
<rect x="504" y="159" width="1" height="1"/>
<rect x="505" y="160" width="1" height="1"/>
<rect x="506" y="161" width="1" height="2"/>
<rect x="507" y="153" width="1" height="10"/>
<rect x="508" y="158" width="1" height="3"/>
<rect x="509" y="161" width="1" height="1"/>
<rect x="510" y="162" width="1" height="1"/>
<rect x="511" y="162" width="1" height="1"/>
<rect x="512" y="155" width="1" height="8"/>
<rect x="513" y="162" width="1" height="1"/>
<rect x="514" y="163" width="1" height="1"/>
<rect x="515" y="163" width="1" height="2"/>
<rect x="516" y="163" width="1" height="3"/>
<rect x="517" y="161" width="1" height="6"/>
<rect x="518" y="161" width="1" height="4"/>
<rect x="519" y="165" width="1" height="7"/>
<rect x="520" y="172" width="1" height="3"/>
<rect x="521" y="174" width="1" height="2"/>
<rect x="522" y="173" width="1" height="6"/>
<rect x="523" y="178" width="1" height="2"/>
<rect x="524" y="179" width="1" height="1"/>
<rect x="525" y="180" width="1" height="1"/>
<rect x="526" y="180" width="1" height="11"/>
<rect x="527" y="191" width="1" height="3"/>
<rect x="528" y="189" width="1" height="3"/>
<rect x="529" y="189" width="1" height="1"/>
<rect x="530" y="189" width="1" height="1"/>
<rect x="531" y="189" width="1" height="2"/>
<rect x="532" y="191" width="1" height="3"/>
<rect x="533" y="192" width="1" height="1"/>
<rect x="534" y="192" width="1" height="1"/>
<rect x="535" y="192" width="1" height="1"/>
<rect x="536" y="187" width="1" height="6"/>
<rect x="537" y="191" width="1" height="3"/>
<rect x="538" y="193" width="1" height="2"/>
<rect x="539" y="194" width="1" height="1"/>
<rect x="540" y="194" width="1" height="1"/>
<rect x="541" y="190" width="1" height="6"/>
<rect x="542" y="195" width="1" height="4"/>
<rect x="543" y="198" width="1" height="2"/>
<rect x="544" y="199" width="1" height="1"/>
<rect x="545" y="199" width="1" height="2"/>
<rect x="546" y="196" width="1" height="8"/>
<rect x="547" y="203" width="1" height="2"/>
<rect x="548" y="204" width="1" height="2"/>
<rect x="549" y="205" width="1" height="1"/>
<rect x="550" y="205" width="1" height="2"/>
<rect x="551" y="203" width="1" height="7"/>
<rect x="552" y="209" width="1" height="4"/>
<rect x="553" y="212" width="1" height="1"/>
<rect x="554" y="212" width="1" height="2"/>
<rect x="555" y="213" width="1" height="1"/>
<rect x="556" y="210" width="1" height="6"/>
<rect x="557" y="215" width="1" height="4"/>
<rect x="558" y="218" width="1" height="2"/>
<rect x="559" y="219" width="1" height="2"/>
<rect x="560" y="215" width="1" height="6"/>
<rect x="561" y="216" width="1" height="6"/>
<rect x="562" y="221" width="1" height="4"/>
<rect x="563" y="224" width="1" height="1"/>
<rect x="564" y="224" width="1" height="2"/>
<rect x="565" y="221" width="1" height="5"/>
<rect x="566" y="223" width="1" height="6"/>
<rect x="567" y="228" width="1" height="4"/>
<rect x="568" y="231" width="1" height="1"/>
<rect x="569" y="231" width="1" height="1"/>
<rect x="570" y="225" width="1" height="7"/>
<rect x="571" y="229" width="1" height="7"/>
<rect x="572" y="235" width="1" height="2"/>
<rect x="573" y="236" width="1" height="1"/>
<rect x="574" y="236" width="1" height="1"/>
<rect x="575" y="232" width="1" height="5"/>
<rect x="576" y="236" width="1" height="5"/>
<rect x="577" y="240" width="1" height="1"/>
<rect x="578" y="240" width="1" height="2"/>
<rect x="579" y="237" width="1" height="5"/>
<rect x="580" y="238" width="1" height="5"/>
<rect x="581" y="242" width="1" height="3"/>
<rect x="582" y="244" width="1" height="2"/>
<rect x="583" y="245" width="1" height="1"/>
<rect x="584" y="245" width="1" height="1"/>
<rect x="585" y="241" width="1" height="5"/>
<rect x="586" y="245" width="1" height="5"/>
<rect x="587" y="249" width="1" height="1"/>
<rect x="588" y="249" width="1" height="1"/>
<rect x="589" y="246" width="1" height="5"/>
</g>
<rect x="108" y="119" width="483" height="1" fill="#000"/>
<rect x="590" y="119" width="1" height="194" fill="#000"/>
<rect x="106" y="311" width="485" height="2" fill="#000"/>
<rect x="106" y="119" width="2" height="194" fill="#f00"/>
<rect x="108" y="313" width="1" height="3" fill="#000"/>
<rect x="166" y="313" width="1" height="6" fill="#000"/>
<rect x="224" y="313" width="1" height="3" fill="#000"/>
<rect x="282" y="313" width="1" height="6" fill="#000"/>
<rect x="340" y="313" width="1" height="3" fill="#000"/>
<rect x="398" y="313" width="1" height="6" fill="#000"/>
<rect x="456" y="313" width="1" height="3" fill="#000"/>
<rect x="514" y="313" width="1" height="6" fill="#000"/>
<rect x="572" y="313" width="1" height="3" fill="#000"/>
<rect x="101" y="121" width="5" height="1" fill="#f00"/>
<rect x="101" y="143" width="5" height="1" fill="#f00"/>
<rect x="101" y="164" width="5" height="1" fill="#f00"/>
<rect x="101" y="185" width="5" height="1" fill="#f00"/>
<rect x="101" y="207" width="5" height="1" fill="#f00"/>
<rect x="101" y="228" width="5" height="1" fill="#f00"/>
<rect x="101" y="250" width="5" height="1" fill="#f00"/>
<rect x="101" y="271" width="5" height="1" fill="#f00"/>
<rect x="101" y="293" width="5" height="1" fill="#f00"/>
<rect x="104" y="132" width="2" height="1" fill="#f00"/>
<rect x="104" y="154" width="2" height="1" fill="#f00"/>
<rect x="104" y="175" width="2" height="1" fill="#f00"/>
<rect x="104" y="196" width="2" height="1" fill="#f00"/>
<rect x="104" y="218" width="2" height="1" fill="#f00"/>
<rect x="104" y="239" width="2" height="1" fill="#f00"/>
<rect x="104" y="261" width="2" height="1" fill="#f00"/>
<rect x="104" y="282" width="2" height="1" fill="#f00"/>
<rect x="104" y="304" width="2" height="1" fill="#f00"/>
</svg>
<div class="yl">
<span style="top:6.8px">58</span>
<span style="top:28.8px">56</span>
<span style="top:49.8px">54</span>
<span style="top:70.8px">52</span>
<span style="top:92.8px">50</span>
<span style="top:113.8px">48</span>
<span style="top:135.8px">46</span>
<span style="top:156.8px">44</span>
<span style="top:178.8px">42</span>
</div>
<div class="yt">TR_Solar [°C]</div>
<div class="xl" style="left:77px">23.12.2009</div>
<div class="xl" style="left:193px">23.12.2009<br>06:00:00</div>
<div class="xl" style="left:309px">23.12.2009<br>12:00:00</div>
<div class="xl" style="left:425px">23.12.2009<br>18:00:00</div>
    </div>
    <svg class="sb" width="576" height="16" viewBox="0 0 576 16" shape-rendering="crispEdges"><rect x="0" y="0" width="576" height="16" fill="#fff"/><rect x="1" y="1" width="466" height="14" fill="#d4d0c8"/><rect x="470" y="0" width="37" height="15" fill="#d4d0c8"/><rect x="470" y="0" width="37" height="1" fill="#808080"/><rect x="470" y="0" width="1" height="15" fill="#808080"/><rect x="507" y="0" width="68" height="15" fill="#d4d0c8"/><rect x="507" y="0" width="67" height="1" fill="#808080"/><rect x="508" y="1" width="66" height="1" fill="#a0a0a0"/><rect x="507" y="0" width="1" height="13" fill="#808080"/><rect x="508" y="2" width="65" height="11" fill="#dedbd3"/><rect x="507" y="13" width="67" height="1" fill="#fff"/><rect x="573" y="0" width="1" height="14" fill="#fff"/><rect x="509" y="3" width="6" height="9" fill="#0a246a"/><rect x="517" y="3" width="6" height="9" fill="#0a246a"/><rect x="525" y="3" width="6" height="9" fill="#0a246a"/><rect x="533" y="3" width="6" height="9" fill="#0a246a"/><rect x="541" y="3" width="6" height="9" fill="#0a246a"/><rect x="549" y="3" width="6" height="9" fill="#0a246a"/><rect x="557" y="3" width="6" height="9" fill="#0a246a"/><rect x="565" y="3" width="6" height="9" fill="#0a246a"/></svg>
    <div class="sb1">Downloaded.</div>
    <div class="sb2">100%</div>
  </div>
  <div class="mw">Minutenwerte</div>
</div>

<div class="blk" style="top:400px">
  <div class="tg" style="left:48px"><span style="margin-right:-0.64px">2</span><span style="margin-right:1.36px">4</span><span style="margin-right:3.48px">)</span> <span style="margin-right:1.66px">T</span><span style="margin-right:0.95px">V</span> <span style="margin-right:0.02px">N</span><span style="margin-right:0.61px">e</span><span style="margin-right:2.28px">t</span><span style="margin-right:-0.31px">z</span><span style="margin-right:2.66px">-</span><span style="margin-right:0.41px">E</span><span style="margin-right:0.66px">i</span><span style="margin-right:0.39px">n</span><span style="margin-right:-0.27px">s</span><span style="margin-right:0.38px">p</span><span style="margin-right:0.61px">e</span><span style="margin-right:0.16px">i</span><span style="margin-right:0.23px">s</span><span style="margin-right:0.39px">u</span><span style="margin-right:0.39px">n</span><span style="margin-right:2.55px">g</span> <span style="margin-right:1.31px">[</span><span style="margin-right:0.66px">T</span><span style="margin-right:0.78px">V</span><span style="margin-right:2.00px">_</span><span style="margin-right:-0.48px">N</span><span style="margin-right:1.11px">e</span><span style="margin-right:2.28px">t</span><span style="margin-right:-0.31px">z</span>]</div><div class="dots" style="left:285px">....................... </div><div class="vg" style="left:407.5px"><span style="margin-right:0.54px">5</span><span style="margin-right:0.64px">1</span><span style="margin-right:-0.79px">,</span><span style="margin-right:1.85px">6</span> <span style="margin-right:-0.19px">[</span><span style="margin-right:2.40px">°</span><span style="margin-right:0.34px">C</span>]</div>
  <svg class="fl" width="580" height="300" viewBox="0 0 580 300" shape-rendering="crispEdges"><rect x="0" y="0" width="579" height="1" fill="#808080"/><rect x="0" y="0" width="1" height="299" fill="#808080"/><rect x="579" y="0" width="1" height="300" fill="#fff"/><rect x="0" y="299" width="580" height="1" fill="#fff"/><rect x="1" y="1" width="577" height="1" fill="#404040"/><rect x="1" y="1" width="1" height="297" fill="#404040"/><rect x="578" y="1" width="1" height="298" fill="#d4d0c8"/><rect x="1" y="298" width="578" height="1" fill="#d4d0c8"/></svg>
  <div class="frame">
    <div class="tbwrap"><svg class="tb" width="577" height="27" viewBox="0 0 577 27" shape-rendering="crispEdges"><defs><pattern id="chk2" width="2" height="2" patternUnits="userSpaceOnUse"><rect width="2" height="2" fill="#d4d0c8"/><rect width="1" height="1" fill="#fff"/><rect x="1" y="1" width="1" height="1" fill="#fff"/></pattern></defs><rect x="26" y="2" width="1" height="21" fill="#808080"/><rect x="27" y="2" width="1" height="21" fill="#fff"/><rect x="80" y="2" width="1" height="21" fill="#808080"/><rect x="81" y="2" width="1" height="21" fill="#fff"/><rect x="332" y="2" width="1" height="21" fill="#808080"/><rect x="333" y="2" width="1" height="21" fill="#fff"/><rect x="482" y="2" width="1" height="21" fill="#808080"/><rect x="483" y="2" width="1" height="21" fill="#fff"/><rect x="537" y="2" width="1" height="21" fill="#808080"/><rect x="538" y="2" width="1" height="21" fill="#fff"/><rect x="568" y="2" width="1" height="21" fill="#808080"/><rect x="569" y="2" width="1" height="21" fill="#fff"/><rect x="3" y="3" width="17" height="18" fill="#000"/><rect x="4" y="4" width="15" height="2" fill="#0000ff"/><rect x="5" y="4" width="5" height="1" fill="#fff"/><rect x="18" y="4" width="1" height="1" fill="#fff"/><rect x="4" y="7" width="15" height="13" fill="#d4d0c8"/><rect x="5" y="8" width="4" height="1" fill="#808080"/><rect x="10" y="8" width="5" height="1" fill="#808080"/><rect x="16" y="8" width="2" height="1" fill="#808080"/><rect x="5" y="10" width="4" height="1" fill="#ff0000"/><rect x="10" y="10" width="5" height="1" fill="#ff0000"/><rect x="16" y="10" width="2" height="1" fill="#ff0000"/><rect x="5" y="12" width="4" height="1" fill="#ffff00"/><rect x="10" y="12" width="5" height="1" fill="#ffff00"/><rect x="16" y="12" width="2" height="1" fill="#ffff00"/><rect x="5" y="14" width="4" height="1" fill="#00ffff"/><rect x="10" y="14" width="5" height="1" fill="#00ffff"/><rect x="5" y="16" width="4" height="1" fill="#800000"/><rect x="10" y="16" width="5" height="1" fill="#800000"/><rect x="5" y="18" width="4" height="1" fill="#ff00ff"/><rect x="10" y="18" width="5" height="1" fill="#ff00ff"/><rect x="16" y="18" width="2" height="1" fill="#ff00ff"/><rect x="5" y="16" width="1" height="1" fill="#000"/><rect x="38" y="6" width="9" height="1" fill="#fff"/><rect x="37" y="7" width="9" height="1" fill="#fff"/><rect x="37" y="8" width="9" height="1" fill="#fff"/><rect x="36" y="9" width="9" height="1" fill="#fff"/><rect x="36" y="10" width="9" height="1" fill="#fff"/><rect x="38" y="5" width="10" height="1" fill="#000"/><rect x="37" y="6" width="1" height="2" fill="#000"/><rect x="47" y="6" width="1" height="1" fill="#000"/><rect x="46" y="7" width="1" height="2" fill="#000"/><rect x="36" y="8" width="1" height="2" fill="#000"/><rect x="35" y="10" width="1" height="1" fill="#000"/><rect x="45" y="9" width="1" height="2" fill="#000"/><rect x="39" y="7" width="6" height="1" fill="#000"/><rect x="38" y="9" width="6" height="1" fill="#000"/><rect x="34" y="11" width="12" height="1" fill="#000"/><rect x="33" y="12" width="1" height="5" fill="#000"/><rect x="34" y="12" width="11" height="1" fill="#fff"/><rect x="45" y="12" width="1" height="1" fill="#000"/><rect x="33" y="13" width="14" height="1" fill="#000"/><rect x="34" y="14" width="5" height="3" fill="#d4d0c8"/><rect x="39" y="14" width="6" height="1" fill="#808080"/><rect x="39" y="15" width="6" height="2" fill="#ffff00"/><rect x="45" y="14" width="1" height="3" fill="#e8e6e0"/><rect x="46" y="14" width="1" height="3" fill="#000"/><rect x="33" y="17" width="14" height="1" fill="#000"/><rect x="34" y="18" width="1" height="1" fill="#000"/><rect x="35" y="18" width="10" height="1" fill="#fff"/><rect x="45" y="18" width="1" height="1" fill="#000"/><rect x="35" y="19" width="11" height="1" fill="#000"/><rect x="47" y="10" width="1" height="1" fill="#000"/><rect x="48" y="11" width="1" height="1" fill="#000"/><rect x="47" y="11" width="1" height="1" fill="#fff"/><rect x="47" y="12" width="1" height="1" fill="#000"/><rect x="48" y="12" width="1" height="1" fill="#fff"/><rect x="49" y="12" width="1" height="1" fill="#000"/><rect x="48" y="13" width="1" height="1" fill="#000"/><rect x="47" y="13" width="1" height="1" fill="#fff"/><rect x="49" y="14" width="1" height="1" fill="#000"/><rect x="48" y="15" width="1" height="1" fill="#000"/><rect x="49" y="16" width="1" height="1" fill="#000"/><rect x="48" y="17" width="1" height="1" fill="#000"/><rect x="47" y="18" width="1" height="1" fill="#fff"/><rect x="48" y="18" width="1" height="1" fill="#000"/><rect x="47" y="19" width="1" height="1" fill="#000"/><rect x="46" y="20" width="1" height="1" fill="#000"/><rect x="46" y="19" width="1" height="1" fill="#fff"/><rect x="49" y="13" width="1" height="1" fill="#fff"/><rect x="59" y="5" width="4" height="9" fill="#fff"/><rect x="63" y="6" width="2" height="8" fill="#fff"/><rect x="65" y="8" width="1" height="6" fill="#fff"/><rect x="58" y="4" width="5" height="1" fill="#000"/><rect x="58" y="4" width="1" height="11" fill="#000"/><rect x="58" y="14" width="6" height="1" fill="#000"/><rect x="63" y="5" width="1" height="1" fill="#000"/><rect x="64" y="6" width="1" height="1" fill="#000"/><rect x="65" y="7" width="1" height="1" fill="#000"/><rect x="66" y="7" width="1" height="3" fill="#000"/><rect x="63" y="6" width="1" height="2" fill="#000"/><rect x="64" y="7" width="1" height="1" fill="#000"/><rect x="60" y="7" width="2" height="1" fill="#000"/><rect x="60" y="9" width="4" height="1" fill="#000"/><rect x="60" y="11" width="4" height="1" fill="#000"/><rect x="65" y="11" width="6" height="9" fill="#fff"/><rect x="70" y="12" width="2" height="8" fill="#fff"/><rect x="64" y="10" width="6" height="1" fill="#000080"/><rect x="64" y="10" width="1" height="11" fill="#000080"/><rect x="64" y="20" width="9" height="1" fill="#000080"/><rect x="72" y="12" width="1" height="9" fill="#000080"/><rect x="70" y="11" width="1" height="1" fill="#000080"/><rect x="71" y="12" width="1" height="1" fill="#000080"/><rect x="70" y="12" width="1" height="1" fill="#000080"/><rect x="69" y="10" width="1" height="2" fill="#000080"/><rect x="66" y="13" width="2" height="1" fill="#000"/><rect x="66" y="15" width="5" height="1" fill="#000"/><rect x="66" y="17" width="5" height="1" fill="#000"/><rect x="88" y="4" width="1" height="15" fill="#ffff00"/><rect x="87" y="6" width="1" height="1" fill="#ffff00"/><rect x="87" y="9" width="1" height="1" fill="#ffff00"/><rect x="87" y="15" width="1" height="1" fill="#ffff00"/><rect x="87" y="18" width="1" height="1" fill="#ffff00"/><rect x="89" y="18" width="13" height="1" fill="#000"/><rect x="89" y="19" width="1" height="1" fill="#000"/><rect x="90" y="19" width="1" height="1" fill="#fff"/><rect x="91" y="19" width="1" height="1" fill="#000"/><rect x="92" y="19" width="1" height="1" fill="#000"/><rect x="93" y="19" width="1" height="1" fill="#fff"/><rect x="94" y="19" width="1" height="1" fill="#000"/><rect x="95" y="19" width="1" height="1" fill="#000"/><rect x="96" y="19" width="1" height="1" fill="#fff"/><rect x="97" y="19" width="1" height="1" fill="#000"/><rect x="98" y="19" width="1" height="1" fill="#000"/><rect x="99" y="19" width="1" height="1" fill="#fff"/><rect x="100" y="19" width="1" height="1" fill="#000"/><rect x="101" y="19" width="1" height="1" fill="#000"/><rect x="89" y="17" width="1" height="1" fill="#ffff00"/><rect x="90" y="16" width="1" height="1" fill="#ffff00"/><rect x="92" y="14" width="1" height="1" fill="#ffff00"/><rect x="93" y="14" width="1" height="1" fill="#ffff00"/><rect x="94" y="14" width="1" height="1" fill="#ffff00"/><rect x="95" y="14" width="1" height="1" fill="#ffff00"/><rect x="97" y="12" width="1" height="1" fill="#ffff00"/><rect x="98" y="12" width="1" height="1" fill="#ffff00"/><rect x="99" y="11" width="1" height="1" fill="#ffff00"/><rect x="100" y="11" width="1" height="1" fill="#ffff00"/><rect x="102" y="8" width="1" height="1" fill="#ffff00"/><rect x="102" y="7" width="1" height="1" fill="#ffff00"/><rect x="102" y="6" width="1" height="1" fill="#ffff00"/><rect x="103" y="6" width="1" height="1" fill="#ffff00"/><rect x="91" y="14" width="1" height="1" fill="#000"/><rect x="90" y="15" width="1" height="1" fill="#000"/><rect x="91" y="15" width="1" height="1" fill="#000"/><rect x="92" y="15" width="1" height="1" fill="#000"/><rect x="91" y="16" width="1" height="1" fill="#000"/><rect x="96" y="12" width="1" height="1" fill="#000"/><rect x="95" y="13" width="1" height="1" fill="#000"/><rect x="96" y="13" width="1" height="1" fill="#000"/><rect x="97" y="13" width="1" height="1" fill="#000"/><rect x="96" y="14" width="1" height="1" fill="#000"/><rect x="101" y="8" width="1" height="1" fill="#000"/><rect x="100" y="9" width="1" height="1" fill="#000"/><rect x="101" y="9" width="1" height="1" fill="#000"/><rect x="102" y="9" width="1" height="1" fill="#000"/><rect x="101" y="10" width="1" height="1" fill="#000"/><rect x="108" y="0" width="23" height="1" fill="#808080"/><rect x="108" y="0" width="1" height="24" fill="#808080"/><rect x="108" y="24" width="24" height="1" fill="#fff"/><rect x="131" y="0" width="1" height="25" fill="#fff"/><rect x="109" y="1" width="22" height="23" fill="url(#chk2)"/><rect x="113" y="5" width="1" height="15" fill="#ffff00"/><rect x="112" y="7" width="1" height="1" fill="#ffff00"/><rect x="112" y="10" width="1" height="1" fill="#ffff00"/><rect x="112" y="16" width="1" height="1" fill="#ffff00"/><rect x="112" y="19" width="1" height="1" fill="#ffff00"/><rect x="114" y="19" width="13" height="1" fill="#000"/><rect x="114" y="20" width="1" height="1" fill="#000"/><rect x="115" y="20" width="1" height="1" fill="#fff"/><rect x="116" y="20" width="1" height="1" fill="#000"/><rect x="117" y="20" width="1" height="1" fill="#000"/><rect x="118" y="20" width="1" height="1" fill="#fff"/><rect x="119" y="20" width="1" height="1" fill="#000"/><rect x="120" y="20" width="1" height="1" fill="#000"/><rect x="121" y="20" width="1" height="1" fill="#fff"/><rect x="122" y="20" width="1" height="1" fill="#000"/><rect x="123" y="20" width="1" height="1" fill="#000"/><rect x="124" y="20" width="1" height="1" fill="#fff"/><rect x="125" y="20" width="1" height="1" fill="#000"/><rect x="126" y="20" width="1" height="1" fill="#000"/><rect x="117" y="5" width="1" height="1" fill="#808080"/><rect x="116" y="6" width="3" height="1" fill="#808080"/><rect x="117" y="7" width="1" height="11" fill="#808080"/><rect x="125" y="5" width="1" height="1" fill="#808080"/><rect x="124" y="6" width="3" height="1" fill="#808080"/><rect x="125" y="7" width="1" height="11" fill="#808080"/><rect x="114" y="18" width="1" height="1" fill="#ffff00"/><rect x="115" y="17" width="1" height="1" fill="#ffff00"/><rect x="116" y="16" width="1" height="1" fill="#ffff00"/><rect x="118" y="15" width="1" height="1" fill="#ffff00"/><rect x="119" y="15" width="1" height="1" fill="#ffff00"/><rect x="120" y="15" width="1" height="1" fill="#ffff00"/><rect x="121" y="14" width="1" height="1" fill="#ffff00"/><rect x="122" y="13" width="1" height="1" fill="#ffff00"/><rect x="123" y="13" width="1" height="1" fill="#ffff00"/><rect x="124" y="12" width="1" height="1" fill="#ffff00"/><rect x="126" y="11" width="1" height="1" fill="#ffff00"/><rect x="126" y="10" width="1" height="1" fill="#ffff00"/><rect x="127" y="9" width="1" height="1" fill="#ffff00"/><rect x="127" y="8" width="1" height="1" fill="#ffff00"/><rect x="128" y="8" width="1" height="1" fill="#ffff00"/><rect x="136" y="4" width="1" height="15" fill="#ffff00"/><rect x="135" y="6" width="1" height="1" fill="#ffff00"/><rect x="135" y="9" width="1" height="1" fill="#ffff00"/><rect x="135" y="15" width="1" height="1" fill="#ffff00"/><rect x="135" y="18" width="1" height="1" fill="#ffff00"/><rect x="137" y="18" width="13" height="1" fill="#000"/><rect x="137" y="19" width="1" height="1" fill="#000"/><rect x="138" y="19" width="1" height="1" fill="#fff"/><rect x="139" y="19" width="1" height="1" fill="#000"/><rect x="140" y="19" width="1" height="1" fill="#000"/><rect x="141" y="19" width="1" height="1" fill="#fff"/><rect x="142" y="19" width="1" height="1" fill="#000"/><rect x="143" y="19" width="1" height="1" fill="#000"/><rect x="144" y="19" width="1" height="1" fill="#fff"/><rect x="145" y="19" width="1" height="1" fill="#000"/><rect x="146" y="19" width="1" height="1" fill="#000"/><rect x="147" y="19" width="1" height="1" fill="#fff"/><rect x="148" y="19" width="1" height="1" fill="#000"/><rect x="149" y="19" width="1" height="1" fill="#000"/><rect x="140" y="4" width="1" height="1" fill="#000"/><rect x="139" y="5" width="3" height="1" fill="#000"/><rect x="140" y="6" width="1" height="11" fill="#000"/><rect x="148" y="4" width="1" height="1" fill="#808080"/><rect x="147" y="5" width="3" height="1" fill="#808080"/><rect x="148" y="6" width="1" height="11" fill="#808080"/><rect x="137" y="17" width="1" height="1" fill="#ffff00"/><rect x="138" y="16" width="1" height="1" fill="#ffff00"/><rect x="139" y="15" width="1" height="1" fill="#ffff00"/><rect x="141" y="14" width="1" height="1" fill="#ffff00"/><rect x="142" y="14" width="1" height="1" fill="#ffff00"/><rect x="143" y="14" width="1" height="1" fill="#ffff00"/><rect x="144" y="13" width="1" height="1" fill="#ffff00"/><rect x="145" y="12" width="1" height="1" fill="#ffff00"/><rect x="146" y="12" width="1" height="1" fill="#ffff00"/><rect x="147" y="11" width="1" height="1" fill="#ffff00"/><rect x="149" y="10" width="1" height="1" fill="#ffff00"/><rect x="149" y="9" width="1" height="1" fill="#ffff00"/><rect x="150" y="8" width="1" height="1" fill="#ffff00"/><rect x="150" y="7" width="1" height="1" fill="#ffff00"/><rect x="151" y="7" width="1" height="1" fill="#ffff00"/><rect x="160" y="4" width="1" height="15" fill="#ffff00"/><rect x="159" y="6" width="1" height="1" fill="#ffff00"/><rect x="159" y="9" width="1" height="1" fill="#ffff00"/><rect x="159" y="15" width="1" height="1" fill="#ffff00"/><rect x="159" y="18" width="1" height="1" fill="#ffff00"/><rect x="161" y="18" width="13" height="1" fill="#000"/><rect x="161" y="19" width="1" height="1" fill="#000"/><rect x="162" y="19" width="1" height="1" fill="#fff"/><rect x="163" y="19" width="1" height="1" fill="#000"/><rect x="164" y="19" width="1" height="1" fill="#000"/><rect x="165" y="19" width="1" height="1" fill="#fff"/><rect x="166" y="19" width="1" height="1" fill="#000"/><rect x="167" y="19" width="1" height="1" fill="#000"/><rect x="168" y="19" width="1" height="1" fill="#fff"/><rect x="169" y="19" width="1" height="1" fill="#000"/><rect x="170" y="19" width="1" height="1" fill="#000"/><rect x="171" y="19" width="1" height="1" fill="#fff"/><rect x="172" y="19" width="1" height="1" fill="#000"/><rect x="173" y="19" width="1" height="1" fill="#000"/><rect x="164" y="4" width="1" height="1" fill="#000"/><rect x="163" y="5" width="3" height="1" fill="#000"/><rect x="164" y="6" width="1" height="11" fill="#000"/><rect x="172" y="4" width="1" height="1" fill="#000"/><rect x="171" y="5" width="3" height="1" fill="#000"/><rect x="172" y="6" width="1" height="11" fill="#000"/><rect x="161" y="17" width="1" height="1" fill="#ffff00"/><rect x="162" y="16" width="1" height="1" fill="#ffff00"/><rect x="163" y="15" width="1" height="1" fill="#ffff00"/><rect x="165" y="14" width="1" height="1" fill="#ffff00"/><rect x="166" y="14" width="1" height="1" fill="#ffff00"/><rect x="167" y="14" width="1" height="1" fill="#ffff00"/><rect x="168" y="13" width="1" height="1" fill="#ffff00"/><rect x="169" y="12" width="1" height="1" fill="#ffff00"/><rect x="170" y="12" width="1" height="1" fill="#ffff00"/><rect x="171" y="11" width="1" height="1" fill="#ffff00"/><rect x="173" y="10" width="1" height="1" fill="#ffff00"/><rect x="173" y="9" width="1" height="1" fill="#ffff00"/><rect x="174" y="8" width="1" height="1" fill="#ffff00"/><rect x="174" y="7" width="1" height="1" fill="#ffff00"/><rect x="175" y="7" width="1" height="1" fill="#ffff00"/><rect x="182" y="0" width="143" height="1" fill="#808080"/><rect x="182" y="0" width="1" height="24" fill="#808080"/><rect x="183" y="1" width="141" height="1" fill="#404040"/><rect x="183" y="1" width="1" height="22" fill="#404040"/><rect x="182" y="23" width="144" height="1" fill="#fff"/><rect x="325" y="0" width="1" height="24" fill="#fff"/><rect x="183" y="22" width="142" height="1" fill="#d4d0c8"/><rect x="324" y="1" width="1" height="22" fill="#d4d0c8"/><rect x="184" y="2" width="140" height="20" fill="#fff"/><rect x="308" y="2" width="16" height="20" fill="#d4d0c8"/><rect x="308" y="2" width="15" height="1" fill="#d4d0c8"/><rect x="309" y="3" width="13" height="1" fill="#fff"/><rect x="309" y="3" width="1" height="17" fill="#fff"/><rect x="323" y="2" width="1" height="20" fill="#404040"/><rect x="308" y="21" width="16" height="1" fill="#404040"/><rect x="322" y="3" width="1" height="18" fill="#808080"/><rect x="309" y="20" width="14" height="1" fill="#808080"/><rect x="312" y="10" width="7" height="1" fill="#808080"/><rect x="313" y="11" width="5" height="1" fill="#808080"/><rect x="314" y="12" width="3" height="1" fill="#808080"/><rect x="315" y="13" width="1" height="1" fill="#808080"/><rect x="316" y="14" width="1" height="1" fill="#fff"/><rect x="317" y="13" width="1" height="1" fill="#fff"/><rect x="318" y="12" width="1" height="1" fill="#fff"/><rect x="319" y="11" width="1" height="1" fill="#fff"/><rect x="347" y="8" width="1" height="1" fill="#000"/><rect x="346" y="9" width="3" height="1" fill="#000"/><rect x="345" y="10" width="5" height="1" fill="#000"/><rect x="344" y="11" width="7" height="1" fill="#000"/><rect x="343" y="12" width="9" height="1" fill="#000"/><rect x="342" y="13" width="11" height="1" fill="#000"/><rect x="341" y="14" width="13" height="1" fill="#000"/><rect x="365" y="8" width="13" height="1" fill="#000"/><rect x="366" y="9" width="11" height="1" fill="#000"/><rect x="367" y="10" width="9" height="1" fill="#000"/><rect x="368" y="11" width="7" height="1" fill="#000"/><rect x="369" y="12" width="5" height="1" fill="#000"/><rect x="370" y="13" width="3" height="1" fill="#000"/><rect x="371" y="14" width="1" height="1" fill="#000"/><rect x="392" y="11" width="1" height="1" fill="#000"/><rect x="393" y="10" width="1" height="3" fill="#000"/><rect x="394" y="9" width="1" height="5" fill="#000"/><rect x="395" y="8" width="1" height="7" fill="#000"/><rect x="396" y="7" width="1" height="9" fill="#000"/><rect x="397" y="6" width="1" height="11" fill="#000"/><rect x="398" y="5" width="1" height="13" fill="#000"/><rect x="413" y="11" width="1" height="1" fill="#000"/><rect x="414" y="10" width="1" height="3" fill="#000"/><rect x="415" y="9" width="1" height="5" fill="#000"/><rect x="416" y="8" width="1" height="7" fill="#000"/><rect x="417" y="7" width="1" height="9" fill="#000"/><rect x="418" y="6" width="1" height="11" fill="#000"/><rect x="419" y="5" width="1" height="13" fill="#000"/><rect x="419" y="11" width="1" height="1" fill="#000"/><rect x="420" y="10" width="1" height="3" fill="#000"/><rect x="421" y="9" width="1" height="5" fill="#000"/><rect x="422" y="8" width="1" height="7" fill="#000"/><rect x="423" y="7" width="1" height="9" fill="#000"/><rect x="424" y="6" width="1" height="11" fill="#000"/><rect x="425" y="5" width="1" height="13" fill="#000"/><rect x="443" y="11" width="1" height="1" fill="#000"/><rect x="442" y="10" width="1" height="3" fill="#000"/><rect x="441" y="9" width="1" height="5" fill="#000"/><rect x="440" y="8" width="1" height="7" fill="#000"/><rect x="439" y="7" width="1" height="9" fill="#000"/><rect x="438" y="6" width="1" height="11" fill="#000"/><rect x="437" y="5" width="1" height="13" fill="#000"/><rect x="449" y="11" width="1" height="1" fill="#000"/><rect x="448" y="10" width="1" height="3" fill="#000"/><rect x="447" y="9" width="1" height="5" fill="#000"/><rect x="446" y="8" width="1" height="7" fill="#000"/><rect x="445" y="7" width="1" height="9" fill="#000"/><rect x="444" y="6" width="1" height="11" fill="#000"/><rect x="443" y="5" width="1" height="13" fill="#000"/><rect x="470" y="11" width="1" height="1" fill="#000"/><rect x="469" y="10" width="1" height="3" fill="#000"/><rect x="468" y="9" width="1" height="5" fill="#000"/><rect x="467" y="8" width="1" height="7" fill="#000"/><rect x="466" y="7" width="1" height="9" fill="#000"/><rect x="465" y="6" width="1" height="11" fill="#000"/><rect x="464" y="5" width="1" height="13" fill="#000"/><rect x="492" y="6" width="9" height="9" fill="#fff"/><rect x="491" y="8" width="11" height="5" fill="#fff"/><rect x="494" y="8" width="5" height="5" fill="#d4d0c8"/><rect x="493" y="9" width="7" height="3" fill="#d4d0c8"/><rect x="494" y="5" width="5" height="1" fill="#000"/><rect x="492" y="6" width="2" height="1" fill="#000"/><rect x="499" y="6" width="2" height="1" fill="#000"/><rect x="494" y="15" width="5" height="1" fill="#000"/><rect x="492" y="14" width="2" height="1" fill="#000"/><rect x="499" y="14" width="2" height="1" fill="#000"/><rect x="492" y="7" width="1" height="1" fill="#000"/><rect x="500" y="7" width="1" height="1" fill="#000"/><rect x="492" y="13" width="1" height="1" fill="#000"/><rect x="500" y="13" width="1" height="1" fill="#000"/><rect x="491" y="8" width="1" height="5" fill="#000"/><rect x="501" y="8" width="1" height="5" fill="#000"/><rect x="494" y="10" width="5" height="1" fill="#000"/><rect x="496" y="8" width="1" height="5" fill="#000"/><rect x="499" y="15" width="3" height="1" fill="#000"/><rect x="500" y="16" width="3" height="1" fill="#000"/><rect x="501" y="17" width="3" height="1" fill="#000"/><rect x="502" y="18" width="3" height="1" fill="#000"/><rect x="503" y="19" width="2" height="1" fill="#000"/><rect x="500" y="14" width="1" height="1" fill="#000"/><rect x="516" y="6" width="9" height="9" fill="#fff"/><rect x="515" y="8" width="11" height="5" fill="#fff"/><rect x="518" y="8" width="5" height="5" fill="#d4d0c8"/><rect x="517" y="9" width="7" height="3" fill="#d4d0c8"/><rect x="518" y="5" width="5" height="1" fill="#000"/><rect x="516" y="6" width="2" height="1" fill="#000"/><rect x="523" y="6" width="2" height="1" fill="#000"/><rect x="518" y="15" width="5" height="1" fill="#000"/><rect x="516" y="14" width="2" height="1" fill="#000"/><rect x="523" y="14" width="2" height="1" fill="#000"/><rect x="516" y="7" width="1" height="1" fill="#000"/><rect x="524" y="7" width="1" height="1" fill="#000"/><rect x="516" y="13" width="1" height="1" fill="#000"/><rect x="524" y="13" width="1" height="1" fill="#000"/><rect x="515" y="8" width="1" height="5" fill="#000"/><rect x="525" y="8" width="1" height="5" fill="#000"/><rect x="518" y="10" width="5" height="1" fill="#000"/><rect x="523" y="15" width="3" height="1" fill="#000"/><rect x="524" y="16" width="3" height="1" fill="#000"/><rect x="525" y="17" width="3" height="1" fill="#000"/><rect x="526" y="18" width="3" height="1" fill="#000"/><rect x="527" y="19" width="2" height="1" fill="#000"/><rect x="524" y="14" width="1" height="1" fill="#000"/><rect x="545" y="3" width="17" height="18" fill="#000"/><rect x="546" y="4" width="15" height="2" fill="#0000ff"/><rect x="560" y="4" width="1" height="1" fill="#fff"/><rect x="546" y="7" width="15" height="13" fill="#d4d0c8"/><rect x="546" y="7" width="14" height="1" fill="#f0eee8"/><rect x="546" y="7" width="1" height="12" fill="#f0eee8"/><rect x="546" y="7" width="15" height="13" fill="#d4d0c8"/><rect x="547" y="8" width="13" height="11" fill="#808080"/><rect x="548" y="9" width="3" height="1" fill="#fff"/><rect x="548" y="11" width="3" height="7" fill="#fff"/><rect x="549" y="12" width="1" height="1" fill="#000"/><rect x="549" y="14" width="1" height="1" fill="#000"/><rect x="549" y="16" width="1" height="1" fill="#000"/><rect x="552" y="9" width="3" height="1" fill="#fff"/><rect x="552" y="11" width="3" height="7" fill="#fff"/><rect x="553" y="12" width="1" height="1" fill="#000"/><rect x="553" y="14" width="1" height="1" fill="#000"/><rect x="553" y="16" width="1" height="1" fill="#000"/><rect x="556" y="9" width="3" height="1" fill="#fff"/><rect x="556" y="11" width="3" height="7" fill="#fff"/><rect x="557" y="12" width="1" height="1" fill="#000"/><rect x="557" y="14" width="1" height="1" fill="#000"/><rect x="557" y="16" width="1" height="1" fill="#000"/><rect x="574" y="6" width="1" height="12" fill="#808080"/><rect x="575" y="6" width="1" height="12" fill="#404040"/><rect x="574" y="18" width="2" height="1" fill="#fff"/></svg><div class="cbt">( No Tracking&nbsp; )</div></div>
    <div class="plot">
<svg class="ch" width="685" height="300" viewBox="0 100 685 300" shape-rendering="crispEdges">
<g fill="#f00">
<rect x="108" y="224" width="1" height="2"/>
<rect x="109" y="225" width="1" height="2"/>
<rect x="110" y="226" width="1" height="2"/>
<rect x="111" y="227" width="1" height="2"/>
<rect x="112" y="228" width="1" height="2"/>
<rect x="113" y="229" width="1" height="1"/>
<rect x="114" y="229" width="1" height="2"/>
<rect x="115" y="230" width="1" height="2"/>
<rect x="116" y="231" width="1" height="1"/>
<rect x="117" y="231" width="1" height="2"/>
<rect x="118" y="232" width="1" height="2"/>
<rect x="119" y="233" width="1" height="1"/>
<rect x="120" y="233" width="1" height="2"/>
<rect x="121" y="234" width="1" height="1"/>
<rect x="122" y="234" width="1" height="2"/>
<rect x="123" y="235" width="1" height="1"/>
<rect x="124" y="236" width="1" height="1"/>
<rect x="125" y="236" width="1" height="1"/>
<rect x="126" y="236" width="1" height="2"/>
<rect x="127" y="237" width="1" height="1"/>
<rect x="128" y="237" width="1" height="1"/>
<rect x="129" y="237" width="1" height="1"/>
<rect x="130" y="237" width="1" height="1"/>
<rect x="131" y="237" width="1" height="1"/>
<rect x="132" y="237" width="1" height="1"/>
<rect x="133" y="237" width="1" height="1"/>
<rect x="134" y="237" width="1" height="1"/>
<rect x="135" y="236" width="1" height="2"/>
<rect x="136" y="235" width="1" height="2"/>
<rect x="137" y="234" width="1" height="2"/>
<rect x="138" y="233" width="1" height="2"/>
<rect x="139" y="232" width="1" height="2"/>
<rect x="140" y="231" width="1" height="2"/>
<rect x="141" y="230" width="1" height="2"/>
<rect x="142" y="229" width="1" height="2"/>
<rect x="143" y="228" width="1" height="2"/>
<rect x="144" y="228" width="1" height="1"/>
<rect x="145" y="227" width="1" height="2"/>
<rect x="146" y="227" width="1" height="1"/>
<rect x="147" y="227" width="1" height="1"/>
<rect x="148" y="226" width="1" height="2"/>
<rect x="149" y="226" width="1" height="1"/>
<rect x="150" y="226" width="1" height="1"/>
<rect x="151" y="226" width="1" height="1"/>
<rect x="152" y="226" width="1" height="1"/>
<rect x="153" y="226" width="1" height="1"/>
<rect x="154" y="226" width="1" height="1"/>
<rect x="155" y="226" width="1" height="1"/>
<rect x="156" y="226" width="1" height="1"/>
<rect x="157" y="226" width="1" height="2"/>
<rect x="158" y="227" width="1" height="1"/>
<rect x="159" y="227" width="1" height="2"/>
<rect x="160" y="228" width="1" height="1"/>
<rect x="161" y="228" width="1" height="2"/>
<rect x="162" y="229" width="1" height="1"/>
<rect x="163" y="230" width="1" height="1"/>
<rect x="164" y="230" width="1" height="2"/>
<rect x="165" y="231" width="1" height="2"/>
<rect x="166" y="232" width="1" height="2"/>
<rect x="167" y="233" width="1" height="1"/>
<rect x="168" y="233" width="1" height="2"/>
<rect x="169" y="234" width="1" height="2"/>
<rect x="170" y="235" width="1" height="2"/>
<rect x="171" y="236" width="1" height="2"/>
<rect x="172" y="237" width="1" height="2"/>
<rect x="173" y="239" width="1" height="2"/>
<rect x="174" y="240" width="1" height="2"/>
<rect x="175" y="241" width="1" height="2"/>
<rect x="176" y="242" width="1" height="2"/>
<rect x="177" y="243" width="1" height="3"/>
<rect x="178" y="245" width="1" height="2"/>
<rect x="179" y="246" width="1" height="2"/>
<rect x="180" y="247" width="1" height="3"/>
<rect x="181" y="249" width="1" height="3"/>
<rect x="182" y="252" width="1" height="2"/>
<rect x="183" y="253" width="1" height="2"/>
<rect x="184" y="255" width="1" height="1"/>
<rect x="185" y="256" width="1" height="37"/>
<rect x="186" y="279" width="1" height="9"/>
<rect x="187" y="284" width="1" height="27"/>
<rect x="188" y="269" width="1" height="42"/>
<rect x="189" y="258" width="1" height="18"/>
<rect x="190" y="272" width="1" height="4"/>
<rect x="191" y="270" width="1" height="2"/>
<rect x="192" y="268" width="1" height="2"/>
<rect x="193" y="267" width="1" height="3"/>
<rect x="194" y="267" width="1" height="1"/>
<rect x="195" y="265" width="1" height="4"/>
<rect x="196" y="264" width="1" height="6"/>
<rect x="197" y="264" width="1" height="3"/>
<rect x="198" y="264" width="1" height="1"/>
<rect x="199" y="264" width="1" height="1"/>
<rect x="200" y="261" width="1" height="4"/>
<rect x="201" y="263" width="1" height="2"/>
<rect x="202" y="261" width="1" height="4"/>
<rect x="203" y="261" width="1" height="4"/>
<rect x="204" y="261" width="1" height="11"/>
<rect x="205" y="264" width="1" height="8"/>
<rect x="206" y="261" width="1" height="7"/>
<rect x="207" y="265" width="1" height="8"/>
<rect x="208" y="261" width="1" height="4"/>
<rect x="209" y="261" width="1" height="11"/>
<rect x="210" y="264" width="1" height="8"/>
<rect x="211" y="262" width="1" height="14"/>
<rect x="212" y="275" width="1" height="8"/>
<rect x="213" y="272" width="1" height="5"/>
<rect x="214" y="271" width="1" height="2"/>
<rect x="215" y="271" width="1" height="1"/>
<rect x="216" y="270" width="1" height="2"/>
<rect x="217" y="270" width="1" height="10"/>
<rect x="218" y="271" width="1" height="10"/>
<rect x="219" y="270" width="1" height="2"/>
<rect x="220" y="272" width="1" height="9"/>
<rect x="221" y="255" width="1" height="17"/>
<rect x="222" y="256" width="1" height="2"/>
<rect x="223" y="256" width="1" height="2"/>
<rect x="224" y="254" width="1" height="4"/>
<rect x="225" y="253" width="1" height="3"/>
<rect x="226" y="255" width="1" height="25"/>
<rect x="227" y="249" width="1" height="11"/>
<rect x="228" y="247" width="1" height="21"/>
<rect x="229" y="254" width="1" height="15"/>
<rect x="230" y="244" width="1" height="21"/>
<rect x="231" y="249" width="1" height="14"/>
<rect x="232" y="245" width="1" height="17"/>
<rect x="233" y="244" width="1" height="14"/>
<rect x="234" y="252" width="1" height="10"/>
<rect x="235" y="242" width="1" height="13"/>
<rect x="236" y="232" width="1" height="20"/>
<rect x="237" y="215" width="1" height="17"/>
<rect x="238" y="212" width="1" height="3"/>
<rect x="239" y="203" width="1" height="11"/>
<rect x="240" y="202" width="1" height="3"/>
<rect x="241" y="200" width="1" height="6"/>
<rect x="242" y="205" width="1" height="3"/>
<rect x="243" y="207" width="1" height="3"/>
<rect x="244" y="210" width="1" height="2"/>
<rect x="245" y="212" width="1" height="6"/>
<rect x="246" y="216" width="1" height="7"/>
<rect x="247" y="220" width="1" height="5"/>
<rect x="248" y="182" width="1" height="42"/>
<rect x="249" y="167" width="1" height="16"/>
<rect x="250" y="174" width="1" height="55"/>
<rect x="251" y="190" width="1" height="38"/>
<rect x="252" y="176" width="1" height="16"/>
<rect x="253" y="168" width="1" height="24"/>
<rect x="254" y="163" width="1" height="17"/>
<rect x="255" y="170" width="1" height="18"/>
<rect x="256" y="168" width="1" height="9"/>
<rect x="257" y="164" width="1" height="12"/>
<rect x="258" y="162" width="1" height="16"/>
<rect x="259" y="147" width="1" height="33"/>
<rect x="260" y="134" width="1" height="17"/>
<rect x="261" y="151" width="1" height="12"/>
<rect x="262" y="142" width="1" height="13"/>
<rect x="263" y="134" width="1" height="9"/>
<rect x="264" y="133" width="1" height="10"/>
<rect x="265" y="140" width="1" height="3"/>
<rect x="266" y="131" width="1" height="11"/>
<rect x="267" y="127" width="1" height="9"/>
<rect x="268" y="127" width="1" height="21"/>
<rect x="269" y="140" width="1" height="18"/>
<rect x="270" y="123" width="1" height="17"/>
<rect x="271" y="129" width="1" height="14"/>
<rect x="272" y="124" width="1" height="14"/>
<rect x="273" y="129" width="1" height="9"/>
<rect x="274" y="128" width="1" height="6"/>
<rect x="275" y="125" width="1" height="7"/>
<rect x="276" y="128" width="1" height="5"/>
<rect x="277" y="130" width="1" height="7"/>
<rect x="278" y="126" width="1" height="17"/>
<rect x="279" y="138" width="1" height="15"/>
<rect x="280" y="128" width="1" height="13"/>
<rect x="281" y="128" width="1" height="39"/>
<rect x="282" y="136" width="1" height="18"/>
<rect x="283" y="138" width="1" height="11"/>
<rect x="284" y="142" width="1" height="12"/>
<rect x="285" y="149" width="1" height="51"/>
<rect x="286" y="184" width="1" height="21"/>
<rect x="287" y="189" width="1" height="4"/>
<rect x="288" y="187" width="1" height="5"/>
<rect x="289" y="186" width="1" height="2"/>
<rect x="290" y="185" width="1" height="2"/>
<rect x="291" y="180" width="1" height="6"/>
<rect x="292" y="177" width="1" height="4"/>
<rect x="293" y="172" width="1" height="6"/>
<rect x="294" y="169" width="1" height="3"/>
<rect x="295" y="166" width="1" height="4"/>
<rect x="296" y="162" width="1" height="3"/>
<rect x="297" y="159" width="1" height="4"/>
<rect x="298" y="156" width="1" height="4"/>
<rect x="299" y="153" width="1" height="4"/>
<rect x="300" y="152" width="1" height="2"/>
<rect x="301" y="151" width="1" height="2"/>
<rect x="302" y="149" width="1" height="3"/>
<rect x="303" y="148" width="1" height="2"/>
<rect x="304" y="146" width="1" height="3"/>
<rect x="305" y="144" width="1" height="3"/>
<rect x="306" y="139" width="1" height="6"/>
<rect x="307" y="136" width="1" height="4"/>
<rect x="308" y="133" width="1" height="4"/>
<rect x="309" y="132" width="1" height="2"/>
<rect x="310" y="131" width="1" height="2"/>
<rect x="311" y="129" width="1" height="2"/>
<rect x="312" y="128" width="1" height="2"/>
<rect x="313" y="126" width="1" height="3"/>
<rect x="314" y="125" width="1" height="2"/>
<rect x="315" y="124" width="1" height="2"/>
<rect x="316" y="123" width="1" height="2"/>
<rect x="317" y="122" width="1" height="2"/>
<rect x="318" y="121" width="1" height="2"/>
<rect x="319" y="121" width="1" height="1"/>
<rect x="320" y="121" width="1" height="1"/>
<rect x="321" y="121" width="1" height="1"/>
<rect x="322" y="120" width="1" height="1"/>
<rect x="323" y="120" width="1" height="1"/>
<rect x="324" y="120" width="1" height="2"/>
<rect x="325" y="121" width="1" height="1"/>
<rect x="326" y="120" width="1" height="7"/>
<rect x="327" y="120" width="1" height="5"/>
<rect x="328" y="121" width="1" height="2"/>
<rect x="329" y="122" width="1" height="2"/>
<rect x="330" y="122" width="1" height="1"/>
<rect x="331" y="122" width="1" height="1"/>
<rect x="332" y="123" width="1" height="1"/>
<rect x="333" y="123" width="1" height="1"/>
<rect x="334" y="123" width="1" height="1"/>
<rect x="335" y="123" width="1" height="1"/>
<rect x="336" y="123" width="1" height="2"/>
<rect x="337" y="124" width="1" height="3"/>
<rect x="338" y="127" width="1" height="2"/>
<rect x="339" y="126" width="1" height="2"/>
<rect x="340" y="128" width="1" height="1"/>
<rect x="341" y="128" width="1" height="1"/>
<rect x="342" y="129" width="1" height="1"/>
<rect x="343" y="129" width="1" height="2"/>
<rect x="344" y="130" width="1" height="2"/>
<rect x="345" y="131" width="1" height="3"/>
<rect x="346" y="131" width="1" height="2"/>
<rect x="347" y="131" width="1" height="1"/>
<rect x="348" y="131" width="1" height="1"/>
<rect x="349" y="132" width="1" height="1"/>
<rect x="350" y="132" width="1" height="1"/>
<rect x="351" y="132" width="1" height="2"/>
<rect x="352" y="134" width="1" height="1"/>
<rect x="353" y="134" width="1" height="1"/>
<rect x="354" y="135" width="1" height="3"/>
<rect x="355" y="135" width="1" height="3"/>
<rect x="356" y="133" width="1" height="3"/>
<rect x="357" y="136" width="1" height="2"/>
<rect x="358" y="137" width="1" height="3"/>
<rect x="359" y="139" width="1" height="1"/>
<rect x="360" y="139" width="1" height="2"/>
<rect x="361" y="138" width="1" height="2"/>
<rect x="362" y="138" width="1" height="1"/>
<rect x="363" y="139" width="1" height="3"/>
<rect x="364" y="141" width="1" height="2"/>
<rect x="365" y="142" width="1" height="1"/>
<rect x="366" y="142" width="1" height="1"/>
<rect x="367" y="142" width="1" height="1"/>
<rect x="368" y="142" width="1" height="1"/>
<rect x="369" y="142" width="1" height="1"/>
<rect x="370" y="143" width="1" height="1"/>
<rect x="371" y="143" width="1" height="2"/>
<rect x="372" y="145" width="1" height="1"/>
<rect x="373" y="145" width="1" height="1"/>
<rect x="374" y="145" width="1" height="1"/>
<rect x="375" y="145" width="1" height="3"/>
<rect x="376" y="145" width="1" height="1"/>
<rect x="377" y="145" width="1" height="1"/>
<rect x="378" y="145" width="1" height="1"/>
<rect x="379" y="145" width="1" height="2"/>
<rect x="380" y="146" width="1" height="2"/>
<rect x="381" y="147" width="1" height="2"/>
<rect x="382" y="148" width="1" height="2"/>
<rect x="383" y="149" width="1" height="4"/>
<rect x="384" y="149" width="1" height="3"/>
<rect x="385" y="148" width="1" height="4"/>
<rect x="386" y="151" width="1" height="1"/>
<rect x="387" y="151" width="1" height="1"/>
<rect x="388" y="151" width="1" height="3"/>
<rect x="389" y="153" width="1" height="3"/>
<rect x="390" y="153" width="1" height="2"/>
<rect x="391" y="153" width="1" height="8"/>
<rect x="392" y="154" width="1" height="15"/>
<rect x="393" y="155" width="1" height="3"/>
<rect x="394" y="156" width="1" height="4"/>
<rect x="395" y="158" width="1" height="2"/>
<rect x="396" y="159" width="1" height="3"/>
<rect x="397" y="157" width="1" height="3"/>
<rect x="398" y="157" width="1" height="2"/>
<rect x="399" y="158" width="1" height="3"/>
<rect x="400" y="160" width="1" height="1"/>
<rect x="401" y="159" width="1" height="1"/>
<rect x="402" y="159" width="1" height="1"/>
<rect x="403" y="159" width="1" height="1"/>
<rect x="404" y="159" width="1" height="1"/>
<rect x="405" y="159" width="1" height="2"/>
<rect x="406" y="159" width="1" height="2"/>
<rect x="407" y="159" width="1" height="5"/>
<rect x="408" y="162" width="1" height="2"/>
<rect x="409" y="163" width="1" height="2"/>
<rect x="410" y="163" width="1" height="1"/>
<rect x="411" y="164" width="1" height="1"/>
<rect x="412" y="164" width="1" height="2"/>
<rect x="413" y="166" width="1" height="2"/>
<rect x="414" y="166" width="1" height="2"/>
<rect x="415" y="161" width="1" height="8"/>
<rect x="416" y="169" width="1" height="2"/>
<rect x="417" y="170" width="1" height="2"/>
<rect x="418" y="171" width="1" height="2"/>
<rect x="419" y="171" width="1" height="1"/>
<rect x="420" y="172" width="1" height="2"/>
<rect x="421" y="173" width="1" height="2"/>
<rect x="422" y="170" width="1" height="5"/>
<rect x="423" y="168" width="1" height="3"/>
<rect x="424" y="167" width="1" height="1"/>
<rect x="425" y="164" width="1" height="3"/>
<rect x="426" y="164" width="1" height="1"/>
<rect x="427" y="163" width="1" height="2"/>
<rect x="428" y="163" width="1" height="1"/>
<rect x="429" y="163" width="1" height="1"/>
<rect x="430" y="163" width="1" height="1"/>
<rect x="431" y="163" width="1" height="1"/>
<rect x="432" y="163" width="1" height="1"/>
<rect x="433" y="163" width="1" height="1"/>
<rect x="434" y="164" width="1" height="1"/>
<rect x="435" y="164" width="1" height="1"/>
<rect x="436" y="164" width="1" height="2"/>
<rect x="437" y="165" width="1" height="1"/>
<rect x="438" y="166" width="1" height="1"/>
<rect x="439" y="166" width="1" height="2"/>
<rect x="440" y="167" width="1" height="1"/>
<rect x="441" y="167" width="1" height="1"/>
<rect x="442" y="167" width="1" height="1"/>
<rect x="443" y="167" width="1" height="1"/>
<rect x="444" y="167" width="1" height="1"/>
<rect x="445" y="167" width="1" height="1"/>
<rect x="446" y="167" width="1" height="1"/>
<rect x="447" y="167" width="1" height="2"/>
<rect x="448" y="168" width="1" height="1"/>
<rect x="449" y="169" width="1" height="1"/>
<rect x="450" y="170" width="1" height="1"/>
<rect x="451" y="170" width="1" height="1"/>
<rect x="452" y="170" width="1" height="3"/>
<rect x="453" y="172" width="1" height="2"/>
<rect x="454" y="173" width="1" height="1"/>
<rect x="455" y="173" width="1" height="1"/>
<rect x="456" y="174" width="1" height="1"/>
<rect x="457" y="175" width="1" height="1"/>
<rect x="458" y="175" width="1" height="1"/>
<rect x="459" y="176" width="1" height="1"/>
<rect x="460" y="176" width="1" height="1"/>
<rect x="461" y="176" width="1" height="1"/>
<rect x="462" y="177" width="1" height="1"/>
<rect x="463" y="177" width="1" height="1"/>
<rect x="464" y="177" width="1" height="2"/>
<rect x="465" y="178" width="1" height="1"/>
<rect x="466" y="178" width="1" height="1"/>
<rect x="467" y="178" width="1" height="1"/>
<rect x="468" y="178" width="1" height="2"/>
<rect x="469" y="179" width="1" height="2"/>
<rect x="470" y="176" width="1" height="35"/>
<rect x="471" y="173" width="1" height="19"/>
<rect x="472" y="192" width="1" height="15"/>
<rect x="473" y="158" width="1" height="43"/>
<rect x="474" y="158" width="1" height="6"/>
<rect x="475" y="158" width="1" height="2"/>
<rect x="476" y="152" width="1" height="6"/>
<rect x="477" y="151" width="1" height="8"/>
<rect x="478" y="159" width="1" height="5"/>
<rect x="479" y="153" width="1" height="6"/>
<rect x="480" y="153" width="1" height="3"/>
<rect x="481" y="155" width="1" height="3"/>
<rect x="482" y="150" width="1" height="8"/>
<rect x="483" y="149" width="1" height="7"/>
<rect x="484" y="156" width="1" height="4"/>
<rect x="485" y="153" width="1" height="6"/>
<rect x="486" y="156" width="1" height="7"/>
<rect x="487" y="155" width="1" height="8"/>
<rect x="488" y="152" width="1" height="3"/>
<rect x="489" y="154" width="1" height="8"/>
<rect x="490" y="155" width="1" height="5"/>
<rect x="491" y="151" width="1" height="4"/>
<rect x="492" y="153" width="1" height="7"/>
<rect x="493" y="156" width="1" height="4"/>
<rect x="494" y="150" width="1" height="6"/>
<rect x="495" y="150" width="1" height="5"/>
<rect x="496" y="155" width="1" height="2"/>
<rect x="497" y="152" width="1" height="4"/>
<rect x="498" y="149" width="1" height="3"/>
<rect x="499" y="149" width="1" height="10"/>
<rect x="500" y="157" width="1" height="3"/>
<rect x="501" y="148" width="1" height="9"/>
<rect x="502" y="148" width="1" height="9"/>
<rect x="503" y="156" width="1" height="2"/>
<rect x="504" y="151" width="1" height="5"/>
<rect x="505" y="151" width="1" height="2"/>
<rect x="506" y="153" width="1" height="5"/>
<rect x="507" y="153" width="1" height="6"/>
<rect x="508" y="149" width="1" height="5"/>
<rect x="509" y="149" width="1" height="4"/>
<rect x="510" y="153" width="1" height="3"/>
<rect x="511" y="153" width="1" height="1"/>
<rect x="512" y="148" width="1" height="5"/>
<rect x="513" y="148" width="1" height="7"/>
<rect x="514" y="155" width="1" height="4"/>
<rect x="515" y="151" width="1" height="9"/>
<rect x="516" y="160" width="1" height="22"/>
<rect x="517" y="179" width="1" height="6"/>
<rect x="518" y="171" width="1" height="8"/>
<rect x="519" y="162" width="1" height="13"/>
<rect x="520" y="162" width="1" height="12"/>
<rect x="521" y="163" width="1" height="9"/>
<rect x="522" y="153" width="1" height="10"/>
<rect x="523" y="145" width="1" height="8"/>
<rect x="524" y="145" width="1" height="7"/>
<rect x="525" y="151" width="1" height="2"/>
<rect x="526" y="147" width="1" height="4"/>
<rect x="527" y="146" width="1" height="3"/>
<rect x="528" y="147" width="1" height="3"/>
<rect x="529" y="149" width="1" height="2"/>
<rect x="530" y="151" width="1" height="2"/>
<rect x="531" y="152" width="1" height="2"/>
<rect x="532" y="153" width="1" height="2"/>
<rect x="533" y="154" width="1" height="3"/>
<rect x="534" y="157" width="1" height="2"/>
<rect x="535" y="159" width="1" height="3"/>
<rect x="536" y="161" width="1" height="3"/>
<rect x="537" y="163" width="1" height="4"/>
<rect x="538" y="166" width="1" height="5"/>
<rect x="539" y="170" width="1" height="3"/>
<rect x="540" y="173" width="1" height="2"/>
<rect x="541" y="174" width="1" height="3"/>
<rect x="542" y="176" width="1" height="3"/>
<rect x="543" y="178" width="1" height="2"/>
<rect x="544" y="179" width="1" height="2"/>
<rect x="545" y="181" width="1" height="2"/>
<rect x="546" y="182" width="1" height="2"/>
<rect x="547" y="184" width="1" height="2"/>
<rect x="548" y="185" width="1" height="2"/>
<rect x="549" y="186" width="1" height="3"/>
<rect x="550" y="188" width="1" height="2"/>
<rect x="551" y="189" width="1" height="2"/>
<rect x="552" y="190" width="1" height="2"/>
<rect x="553" y="191" width="1" height="2"/>
<rect x="554" y="192" width="1" height="3"/>
<rect x="555" y="194" width="1" height="2"/>
<rect x="556" y="195" width="1" height="2"/>
<rect x="557" y="196" width="1" height="2"/>
<rect x="558" y="197" width="1" height="2"/>
<rect x="559" y="198" width="1" height="2"/>
<rect x="560" y="199" width="1" height="2"/>
<rect x="561" y="200" width="1" height="2"/>
<rect x="562" y="201" width="1" height="2"/>
<rect x="563" y="202" width="1" height="1"/>
<rect x="564" y="203" width="1" height="1"/>
<rect x="565" y="203" width="1" height="2"/>
<rect x="566" y="204" width="1" height="2"/>
<rect x="567" y="205" width="1" height="2"/>
<rect x="568" y="206" width="1" height="2"/>
<rect x="569" y="207" width="1" height="2"/>
<rect x="570" y="208" width="1" height="2"/>
<rect x="571" y="209" width="1" height="1"/>
<rect x="572" y="209" width="1" height="2"/>
<rect x="573" y="210" width="1" height="1"/>
<rect x="574" y="210" width="1" height="2"/>
<rect x="575" y="211" width="1" height="2"/>
<rect x="576" y="212" width="1" height="2"/>
<rect x="577" y="213" width="1" height="2"/>
<rect x="578" y="214" width="1" height="1"/>
<rect x="579" y="214" width="1" height="1"/>
<rect x="580" y="214" width="1" height="2"/>
<rect x="581" y="215" width="1" height="1"/>
<rect x="582" y="215" width="1" height="1"/>
<rect x="583" y="215" width="1" height="2"/>
<rect x="584" y="216" width="1" height="1"/>
<rect x="585" y="216" width="1" height="1"/>
<rect x="586" y="216" width="1" height="2"/>
<rect x="587" y="217" width="1" height="1"/>
<rect x="588" y="217" width="1" height="1"/>
<rect x="589" y="217" width="1" height="1"/>
</g>
<rect x="108" y="119" width="483" height="1" fill="#000"/>
<rect x="590" y="119" width="1" height="194" fill="#000"/>
<rect x="106" y="311" width="485" height="2" fill="#000"/>
<rect x="106" y="119" width="2" height="194" fill="#f00"/>
<rect x="108" y="313" width="1" height="3" fill="#000"/>
<rect x="166" y="313" width="1" height="6" fill="#000"/>
<rect x="224" y="313" width="1" height="3" fill="#000"/>
<rect x="282" y="313" width="1" height="6" fill="#000"/>
<rect x="340" y="313" width="1" height="3" fill="#000"/>
<rect x="398" y="313" width="1" height="6" fill="#000"/>
<rect x="456" y="313" width="1" height="3" fill="#000"/>
<rect x="514" y="313" width="1" height="6" fill="#000"/>
<rect x="572" y="313" width="1" height="3" fill="#000"/>
<rect x="101" y="126" width="5" height="1" fill="#f00"/>
<rect x="101" y="141" width="5" height="1" fill="#f00"/>
<rect x="101" y="156" width="5" height="1" fill="#f00"/>
<rect x="101" y="170" width="5" height="1" fill="#f00"/>
<rect x="101" y="185" width="5" height="1" fill="#f00"/>
<rect x="101" y="200" width="5" height="1" fill="#f00"/>
<rect x="101" y="214" width="5" height="1" fill="#f00"/>
<rect x="101" y="229" width="5" height="1" fill="#f00"/>
<rect x="101" y="244" width="5" height="1" fill="#f00"/>
<rect x="101" y="258" width="5" height="1" fill="#f00"/>
<rect x="101" y="273" width="5" height="1" fill="#f00"/>
<rect x="101" y="288" width="5" height="1" fill="#f00"/>
<rect x="101" y="302" width="5" height="1" fill="#f00"/>
<rect x="104" y="133" width="2" height="1" fill="#f00"/>
<rect x="104" y="148" width="2" height="1" fill="#f00"/>
<rect x="104" y="163" width="2" height="1" fill="#f00"/>
<rect x="104" y="177" width="2" height="1" fill="#f00"/>
<rect x="104" y="192" width="2" height="1" fill="#f00"/>
<rect x="104" y="207" width="2" height="1" fill="#f00"/>
<rect x="104" y="221" width="2" height="1" fill="#f00"/>
<rect x="104" y="236" width="2" height="1" fill="#f00"/>
<rect x="104" y="251" width="2" height="1" fill="#f00"/>
<rect x="104" y="265" width="2" height="1" fill="#f00"/>
<rect x="104" y="280" width="2" height="1" fill="#f00"/>
<rect x="104" y="295" width="2" height="1" fill="#f00"/>
<rect x="104" y="310" width="2" height="1" fill="#f00"/>
</svg>
<div class="yl">
<span style="top:11.8px">64</span>
<span style="top:26.8px">62</span>
<span style="top:41.8px">60</span>
<span style="top:55.8px">58</span>
<span style="top:70.8px">56</span>
<span style="top:85.8px">54</span>
<span style="top:99.8px">52</span>
<span style="top:114.8px">50</span>
<span style="top:129.8px">48</span>
<span style="top:143.8px">46</span>
<span style="top:158.8px">44</span>
<span style="top:173.8px">42</span>
<span style="top:187.8px">40</span>
</div>
<div class="yt">TV_Netz [°C]</div>
<div class="xl" style="left:77px">23.12.2009</div>
<div class="xl" style="left:193px">23.12.2009<br>06:00:00</div>
<div class="xl" style="left:309px">23.12.2009<br>12:00:00</div>
<div class="xl" style="left:425px">23.12.2009<br>18:00:00</div>
    </div>
    <svg class="sb" width="576" height="16" viewBox="0 0 576 16" shape-rendering="crispEdges"><rect x="0" y="0" width="576" height="16" fill="#fff"/><rect x="1" y="1" width="466" height="14" fill="#d4d0c8"/><rect x="470" y="0" width="37" height="15" fill="#d4d0c8"/><rect x="470" y="0" width="37" height="1" fill="#808080"/><rect x="470" y="0" width="1" height="15" fill="#808080"/><rect x="507" y="0" width="68" height="15" fill="#d4d0c8"/><rect x="507" y="0" width="67" height="1" fill="#808080"/><rect x="508" y="1" width="66" height="1" fill="#a0a0a0"/><rect x="507" y="0" width="1" height="13" fill="#808080"/><rect x="508" y="2" width="65" height="11" fill="#dedbd3"/><rect x="507" y="13" width="67" height="1" fill="#fff"/><rect x="573" y="0" width="1" height="14" fill="#fff"/><rect x="509" y="3" width="6" height="9" fill="#0a246a"/><rect x="517" y="3" width="6" height="9" fill="#0a246a"/><rect x="525" y="3" width="6" height="9" fill="#0a246a"/><rect x="533" y="3" width="6" height="9" fill="#0a246a"/><rect x="541" y="3" width="6" height="9" fill="#0a246a"/><rect x="549" y="3" width="6" height="9" fill="#0a246a"/><rect x="557" y="3" width="6" height="9" fill="#0a246a"/><rect x="565" y="3" width="6" height="9" fill="#0a246a"/></svg>
    <div class="sb1">Downloaded.</div>
    <div class="sb2">100%</div>
  </div>
  <div class="mw">Minutenwerte</div>
</div>
</body></html>
